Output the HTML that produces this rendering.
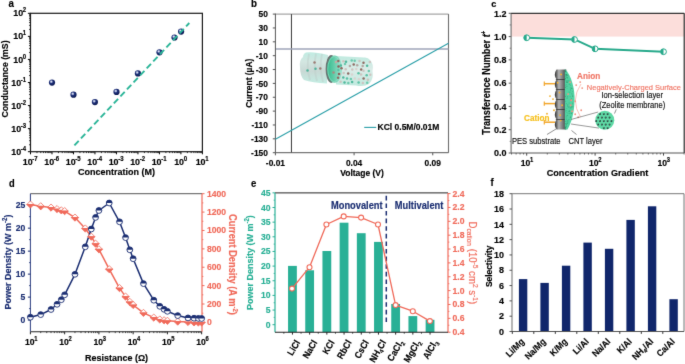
<!DOCTYPE html>
<html><head><meta charset="utf-8"><style>
html,body{margin:0;padding:0;background:#fff;}
svg{display:block;font-family:"Liberation Sans", sans-serif;}
</style></head><body>
<svg width="685" height="364" viewBox="0 0 685 364">
<defs>
<filter id="soft" x="0" y="0" width="685" height="364" filterUnits="userSpaceOnUse" color-interpolation-filters="sRGB"><feConvolveMatrix order="3" kernelMatrix="0.0081 0.0738 0.0081 0.0738 0.6724 0.0738 0.0081 0.0738 0.0081" divisor="1" edgeMode="duplicate" preserveAlpha="true"/></filter>
<radialGradient id="ball" cx="0.38" cy="0.35" r="0.65">
<stop offset="0" stop-color="#ffffff"/>
<stop offset="0.22" stop-color="#9aa6d0"/>
<stop offset="0.45" stop-color="#1d2f78"/>
<stop offset="1" stop-color="#0c1a52"/>
</radialGradient>
<linearGradient id="tubeL" x1="0" y1="0" x2="0" y2="1">
<stop offset="0" stop-color="#bfece2"/><stop offset="0.3" stop-color="#d3e6e1"/><stop offset="0.6" stop-color="#c9d9d5"/><stop offset="1" stop-color="#c3ede3"/>
</linearGradient>
<linearGradient id="tubeR" x1="0" y1="0" x2="0" y2="1">
<stop offset="0" stop-color="#bfeadf"/><stop offset="0.45" stop-color="#dcece8"/><stop offset="1" stop-color="#bfe9de"/>
</linearGradient>
<linearGradient id="disc" x1="0" y1="0" x2="1" y2="0">
<stop offset="0" stop-color="#35b98c"/><stop offset="0.4" stop-color="#5ccaa5"/><stop offset="1" stop-color="#a6e2d2"/>
</linearGradient>
<linearGradient id="pes" x1="0" y1="0" x2="1" y2="0">
<stop offset="0" stop-color="#2e2e2e"/><stop offset="0.35" stop-color="#b5b5b5"/><stop offset="0.7" stop-color="#777"/><stop offset="1" stop-color="#3a3a3a"/>
</linearGradient>
</defs>
<g filter="url(#soft)">
<rect width="685" height="364" fill="#fff"/>
<text transform="translate(8.60,6.90) scale(1,1.08)" font-size="9.8" fill="#000" text-anchor="start" font-weight="bold"  style="" stroke="#000" stroke-width="0.15">a</text>
<line x1="30.50" y1="151.70" x2="30.50" y2="154.30" stroke="#000" stroke-width="1" />
<line x1="36.97" y1="151.70" x2="36.97" y2="153.10" stroke="#000" stroke-width="0.8" />
<line x1="40.75" y1="151.70" x2="40.75" y2="153.10" stroke="#000" stroke-width="0.8" />
<line x1="43.44" y1="151.70" x2="43.44" y2="153.10" stroke="#000" stroke-width="0.8" />
<line x1="45.52" y1="151.70" x2="45.52" y2="153.10" stroke="#000" stroke-width="0.8" />
<line x1="47.22" y1="151.70" x2="47.22" y2="153.10" stroke="#000" stroke-width="0.8" />
<line x1="48.66" y1="151.70" x2="48.66" y2="153.10" stroke="#000" stroke-width="0.8" />
<line x1="49.91" y1="151.70" x2="49.91" y2="153.10" stroke="#000" stroke-width="0.8" />
<line x1="51.00" y1="151.70" x2="51.00" y2="153.10" stroke="#000" stroke-width="0.8" />
<line x1="51.99" y1="151.70" x2="51.99" y2="154.30" stroke="#000" stroke-width="1" />
<line x1="58.46" y1="151.70" x2="58.46" y2="153.10" stroke="#000" stroke-width="0.8" />
<line x1="62.24" y1="151.70" x2="62.24" y2="153.10" stroke="#000" stroke-width="0.8" />
<line x1="64.92" y1="151.70" x2="64.92" y2="153.10" stroke="#000" stroke-width="0.8" />
<line x1="67.01" y1="151.70" x2="67.01" y2="153.10" stroke="#000" stroke-width="0.8" />
<line x1="68.71" y1="151.70" x2="68.71" y2="153.10" stroke="#000" stroke-width="0.8" />
<line x1="70.15" y1="151.70" x2="70.15" y2="153.10" stroke="#000" stroke-width="0.8" />
<line x1="71.39" y1="151.70" x2="71.39" y2="153.10" stroke="#000" stroke-width="0.8" />
<line x1="72.49" y1="151.70" x2="72.49" y2="153.10" stroke="#000" stroke-width="0.8" />
<line x1="73.47" y1="151.70" x2="73.47" y2="154.30" stroke="#000" stroke-width="1" />
<line x1="79.94" y1="151.70" x2="79.94" y2="153.10" stroke="#000" stroke-width="0.8" />
<line x1="83.73" y1="151.70" x2="83.73" y2="153.10" stroke="#000" stroke-width="0.8" />
<line x1="86.41" y1="151.70" x2="86.41" y2="153.10" stroke="#000" stroke-width="0.8" />
<line x1="88.49" y1="151.70" x2="88.49" y2="153.10" stroke="#000" stroke-width="0.8" />
<line x1="90.20" y1="151.70" x2="90.20" y2="153.10" stroke="#000" stroke-width="0.8" />
<line x1="91.63" y1="151.70" x2="91.63" y2="153.10" stroke="#000" stroke-width="0.8" />
<line x1="92.88" y1="151.70" x2="92.88" y2="153.10" stroke="#000" stroke-width="0.8" />
<line x1="93.98" y1="151.70" x2="93.98" y2="153.10" stroke="#000" stroke-width="0.8" />
<line x1="94.96" y1="151.70" x2="94.96" y2="154.30" stroke="#000" stroke-width="1" />
<line x1="101.43" y1="151.70" x2="101.43" y2="153.10" stroke="#000" stroke-width="0.8" />
<line x1="105.21" y1="151.70" x2="105.21" y2="153.10" stroke="#000" stroke-width="0.8" />
<line x1="107.90" y1="151.70" x2="107.90" y2="153.10" stroke="#000" stroke-width="0.8" />
<line x1="109.98" y1="151.70" x2="109.98" y2="153.10" stroke="#000" stroke-width="0.8" />
<line x1="111.68" y1="151.70" x2="111.68" y2="153.10" stroke="#000" stroke-width="0.8" />
<line x1="113.12" y1="151.70" x2="113.12" y2="153.10" stroke="#000" stroke-width="0.8" />
<line x1="114.37" y1="151.70" x2="114.37" y2="153.10" stroke="#000" stroke-width="0.8" />
<line x1="115.47" y1="151.70" x2="115.47" y2="153.10" stroke="#000" stroke-width="0.8" />
<line x1="116.45" y1="151.70" x2="116.45" y2="154.30" stroke="#000" stroke-width="1" />
<line x1="122.92" y1="151.70" x2="122.92" y2="153.10" stroke="#000" stroke-width="0.8" />
<line x1="126.70" y1="151.70" x2="126.70" y2="153.10" stroke="#000" stroke-width="0.8" />
<line x1="129.39" y1="151.70" x2="129.39" y2="153.10" stroke="#000" stroke-width="0.8" />
<line x1="131.47" y1="151.70" x2="131.47" y2="153.10" stroke="#000" stroke-width="0.8" />
<line x1="133.17" y1="151.70" x2="133.17" y2="153.10" stroke="#000" stroke-width="0.8" />
<line x1="134.61" y1="151.70" x2="134.61" y2="153.10" stroke="#000" stroke-width="0.8" />
<line x1="135.86" y1="151.70" x2="135.86" y2="153.10" stroke="#000" stroke-width="0.8" />
<line x1="136.95" y1="151.70" x2="136.95" y2="153.10" stroke="#000" stroke-width="0.8" />
<line x1="137.94" y1="151.70" x2="137.94" y2="154.30" stroke="#000" stroke-width="1" />
<line x1="144.41" y1="151.70" x2="144.41" y2="153.10" stroke="#000" stroke-width="0.8" />
<line x1="148.19" y1="151.70" x2="148.19" y2="153.10" stroke="#000" stroke-width="0.8" />
<line x1="150.87" y1="151.70" x2="150.87" y2="153.10" stroke="#000" stroke-width="0.8" />
<line x1="152.96" y1="151.70" x2="152.96" y2="153.10" stroke="#000" stroke-width="0.8" />
<line x1="154.66" y1="151.70" x2="154.66" y2="153.10" stroke="#000" stroke-width="0.8" />
<line x1="156.10" y1="151.70" x2="156.10" y2="153.10" stroke="#000" stroke-width="0.8" />
<line x1="157.34" y1="151.70" x2="157.34" y2="153.10" stroke="#000" stroke-width="0.8" />
<line x1="158.44" y1="151.70" x2="158.44" y2="153.10" stroke="#000" stroke-width="0.8" />
<line x1="159.43" y1="151.70" x2="159.43" y2="154.30" stroke="#000" stroke-width="1" />
<line x1="165.89" y1="151.70" x2="165.89" y2="153.10" stroke="#000" stroke-width="0.8" />
<line x1="169.68" y1="151.70" x2="169.68" y2="153.10" stroke="#000" stroke-width="0.8" />
<line x1="172.36" y1="151.70" x2="172.36" y2="153.10" stroke="#000" stroke-width="0.8" />
<line x1="174.44" y1="151.70" x2="174.44" y2="153.10" stroke="#000" stroke-width="0.8" />
<line x1="176.15" y1="151.70" x2="176.15" y2="153.10" stroke="#000" stroke-width="0.8" />
<line x1="177.58" y1="151.70" x2="177.58" y2="153.10" stroke="#000" stroke-width="0.8" />
<line x1="178.83" y1="151.70" x2="178.83" y2="153.10" stroke="#000" stroke-width="0.8" />
<line x1="179.93" y1="151.70" x2="179.93" y2="153.10" stroke="#000" stroke-width="0.8" />
<line x1="180.91" y1="151.70" x2="180.91" y2="154.30" stroke="#000" stroke-width="1" />
<line x1="187.38" y1="151.70" x2="187.38" y2="153.10" stroke="#000" stroke-width="0.8" />
<line x1="191.16" y1="151.70" x2="191.16" y2="153.10" stroke="#000" stroke-width="0.8" />
<line x1="193.85" y1="151.70" x2="193.85" y2="153.10" stroke="#000" stroke-width="0.8" />
<line x1="195.93" y1="151.70" x2="195.93" y2="153.10" stroke="#000" stroke-width="0.8" />
<line x1="197.63" y1="151.70" x2="197.63" y2="153.10" stroke="#000" stroke-width="0.8" />
<line x1="199.07" y1="151.70" x2="199.07" y2="153.10" stroke="#000" stroke-width="0.8" />
<line x1="200.32" y1="151.70" x2="200.32" y2="153.10" stroke="#000" stroke-width="0.8" />
<line x1="201.42" y1="151.70" x2="201.42" y2="153.10" stroke="#000" stroke-width="0.8" />
<line x1="202.40" y1="151.70" x2="202.40" y2="154.30" stroke="#000" stroke-width="1" />
<line x1="27.90" y1="151.70" x2="30.50" y2="151.70" stroke="#000" stroke-width="1" />
<line x1="29.10" y1="144.76" x2="30.50" y2="144.76" stroke="#000" stroke-width="0.8" />
<line x1="29.10" y1="140.69" x2="30.50" y2="140.69" stroke="#000" stroke-width="0.8" />
<line x1="29.10" y1="137.81" x2="30.50" y2="137.81" stroke="#000" stroke-width="0.8" />
<line x1="29.10" y1="135.58" x2="30.50" y2="135.58" stroke="#000" stroke-width="0.8" />
<line x1="29.10" y1="133.75" x2="30.50" y2="133.75" stroke="#000" stroke-width="0.8" />
<line x1="29.10" y1="132.21" x2="30.50" y2="132.21" stroke="#000" stroke-width="0.8" />
<line x1="29.10" y1="130.87" x2="30.50" y2="130.87" stroke="#000" stroke-width="0.8" />
<line x1="29.10" y1="129.69" x2="30.50" y2="129.69" stroke="#000" stroke-width="0.8" />
<line x1="27.90" y1="128.63" x2="30.50" y2="128.63" stroke="#000" stroke-width="1" />
<line x1="29.10" y1="121.69" x2="30.50" y2="121.69" stroke="#000" stroke-width="0.8" />
<line x1="29.10" y1="117.63" x2="30.50" y2="117.63" stroke="#000" stroke-width="0.8" />
<line x1="29.10" y1="114.75" x2="30.50" y2="114.75" stroke="#000" stroke-width="0.8" />
<line x1="29.10" y1="112.51" x2="30.50" y2="112.51" stroke="#000" stroke-width="0.8" />
<line x1="29.10" y1="110.68" x2="30.50" y2="110.68" stroke="#000" stroke-width="0.8" />
<line x1="29.10" y1="109.14" x2="30.50" y2="109.14" stroke="#000" stroke-width="0.8" />
<line x1="29.10" y1="107.80" x2="30.50" y2="107.80" stroke="#000" stroke-width="0.8" />
<line x1="29.10" y1="106.62" x2="30.50" y2="106.62" stroke="#000" stroke-width="0.8" />
<line x1="27.90" y1="105.57" x2="30.50" y2="105.57" stroke="#000" stroke-width="1" />
<line x1="29.10" y1="98.62" x2="30.50" y2="98.62" stroke="#000" stroke-width="0.8" />
<line x1="29.10" y1="94.56" x2="30.50" y2="94.56" stroke="#000" stroke-width="0.8" />
<line x1="29.10" y1="91.68" x2="30.50" y2="91.68" stroke="#000" stroke-width="0.8" />
<line x1="29.10" y1="89.44" x2="30.50" y2="89.44" stroke="#000" stroke-width="0.8" />
<line x1="29.10" y1="87.62" x2="30.50" y2="87.62" stroke="#000" stroke-width="0.8" />
<line x1="29.10" y1="86.07" x2="30.50" y2="86.07" stroke="#000" stroke-width="0.8" />
<line x1="29.10" y1="84.74" x2="30.50" y2="84.74" stroke="#000" stroke-width="0.8" />
<line x1="29.10" y1="83.56" x2="30.50" y2="83.56" stroke="#000" stroke-width="0.8" />
<line x1="27.90" y1="82.50" x2="30.50" y2="82.50" stroke="#000" stroke-width="1" />
<line x1="29.10" y1="75.56" x2="30.50" y2="75.56" stroke="#000" stroke-width="0.8" />
<line x1="29.10" y1="71.49" x2="30.50" y2="71.49" stroke="#000" stroke-width="0.8" />
<line x1="29.10" y1="68.61" x2="30.50" y2="68.61" stroke="#000" stroke-width="0.8" />
<line x1="29.10" y1="66.38" x2="30.50" y2="66.38" stroke="#000" stroke-width="0.8" />
<line x1="29.10" y1="64.55" x2="30.50" y2="64.55" stroke="#000" stroke-width="0.8" />
<line x1="29.10" y1="63.01" x2="30.50" y2="63.01" stroke="#000" stroke-width="0.8" />
<line x1="29.10" y1="61.67" x2="30.50" y2="61.67" stroke="#000" stroke-width="0.8" />
<line x1="29.10" y1="60.49" x2="30.50" y2="60.49" stroke="#000" stroke-width="0.8" />
<line x1="27.90" y1="59.43" x2="30.50" y2="59.43" stroke="#000" stroke-width="1" />
<line x1="29.10" y1="52.49" x2="30.50" y2="52.49" stroke="#000" stroke-width="0.8" />
<line x1="29.10" y1="48.43" x2="30.50" y2="48.43" stroke="#000" stroke-width="0.8" />
<line x1="29.10" y1="45.55" x2="30.50" y2="45.55" stroke="#000" stroke-width="0.8" />
<line x1="29.10" y1="43.31" x2="30.50" y2="43.31" stroke="#000" stroke-width="0.8" />
<line x1="29.10" y1="41.48" x2="30.50" y2="41.48" stroke="#000" stroke-width="0.8" />
<line x1="29.10" y1="39.94" x2="30.50" y2="39.94" stroke="#000" stroke-width="0.8" />
<line x1="29.10" y1="38.60" x2="30.50" y2="38.60" stroke="#000" stroke-width="0.8" />
<line x1="29.10" y1="37.42" x2="30.50" y2="37.42" stroke="#000" stroke-width="0.8" />
<line x1="27.90" y1="36.37" x2="30.50" y2="36.37" stroke="#000" stroke-width="1" />
<line x1="29.10" y1="29.42" x2="30.50" y2="29.42" stroke="#000" stroke-width="0.8" />
<line x1="29.10" y1="25.36" x2="30.50" y2="25.36" stroke="#000" stroke-width="0.8" />
<line x1="29.10" y1="22.48" x2="30.50" y2="22.48" stroke="#000" stroke-width="0.8" />
<line x1="29.10" y1="20.24" x2="30.50" y2="20.24" stroke="#000" stroke-width="0.8" />
<line x1="29.10" y1="18.42" x2="30.50" y2="18.42" stroke="#000" stroke-width="0.8" />
<line x1="29.10" y1="16.87" x2="30.50" y2="16.87" stroke="#000" stroke-width="0.8" />
<line x1="29.10" y1="15.54" x2="30.50" y2="15.54" stroke="#000" stroke-width="0.8" />
<line x1="29.10" y1="14.36" x2="30.50" y2="14.36" stroke="#000" stroke-width="0.8" />
<line x1="27.90" y1="13.30" x2="30.50" y2="13.30" stroke="#000" stroke-width="1" />
<rect x="30.5" y="13.3" width="171.9" height="138.39999999999998" fill="none" stroke="#1a1a1a" stroke-width="1.2"/>
<text transform="translate(30.20,165.00) scale(1,1.08)" font-size="8.9" fill="#000" text-anchor="middle" font-weight="bold" stroke="#000" stroke-width="0.15">10<tspan font-size="6.05" dx="-0.3" dy="-3.74">-7</tspan></text>
<text transform="translate(51.69,165.00) scale(1,1.08)" font-size="8.9" fill="#000" text-anchor="middle" font-weight="bold" stroke="#000" stroke-width="0.15">10<tspan font-size="6.05" dx="-0.3" dy="-3.74">-6</tspan></text>
<text transform="translate(73.17,165.00) scale(1,1.08)" font-size="8.9" fill="#000" text-anchor="middle" font-weight="bold" stroke="#000" stroke-width="0.15">10<tspan font-size="6.05" dx="-0.3" dy="-3.74">-5</tspan></text>
<text transform="translate(94.66,165.00) scale(1,1.08)" font-size="8.9" fill="#000" text-anchor="middle" font-weight="bold" stroke="#000" stroke-width="0.15">10<tspan font-size="6.05" dx="-0.3" dy="-3.74">-4</tspan></text>
<text transform="translate(116.15,165.00) scale(1,1.08)" font-size="8.9" fill="#000" text-anchor="middle" font-weight="bold" stroke="#000" stroke-width="0.15">10<tspan font-size="6.05" dx="-0.3" dy="-3.74">-3</tspan></text>
<text transform="translate(137.64,165.00) scale(1,1.08)" font-size="8.9" fill="#000" text-anchor="middle" font-weight="bold" stroke="#000" stroke-width="0.15">10<tspan font-size="6.05" dx="-0.3" dy="-3.74">-2</tspan></text>
<text transform="translate(159.12,165.00) scale(1,1.08)" font-size="8.9" fill="#000" text-anchor="middle" font-weight="bold" stroke="#000" stroke-width="0.15">10<tspan font-size="6.05" dx="-0.3" dy="-3.74">-1</tspan></text>
<text transform="translate(180.61,165.00) scale(1,1.08)" font-size="8.9" fill="#000" text-anchor="middle" font-weight="bold" stroke="#000" stroke-width="0.15">10<tspan font-size="6.05" dx="-0.3" dy="-3.74">0</tspan></text>
<text transform="translate(202.10,165.00) scale(1,1.08)" font-size="8.9" fill="#000" text-anchor="middle" font-weight="bold" stroke="#000" stroke-width="0.15">10<tspan font-size="6.05" dx="-0.3" dy="-3.74">1</tspan></text>
<text transform="translate(26.20,154.80) scale(1,1.08)" font-size="8.9" text-anchor="end" font-weight="bold" stroke="#000" stroke-width="0.15">10<tspan font-size="6" dx="-0.3" dy="-3.7">-4</tspan></text>
<text transform="translate(26.20,131.73) scale(1,1.08)" font-size="8.9" text-anchor="end" font-weight="bold" stroke="#000" stroke-width="0.15">10<tspan font-size="6" dx="-0.3" dy="-3.7">-3</tspan></text>
<text transform="translate(26.20,108.67) scale(1,1.08)" font-size="8.9" text-anchor="end" font-weight="bold" stroke="#000" stroke-width="0.15">10<tspan font-size="6" dx="-0.3" dy="-3.7">-2</tspan></text>
<text transform="translate(26.20,85.60) scale(1,1.08)" font-size="8.9" text-anchor="end" font-weight="bold" stroke="#000" stroke-width="0.15">10<tspan font-size="6" dx="-0.3" dy="-3.7">-1</tspan></text>
<text transform="translate(26.20,62.53) scale(1,1.08)" font-size="8.9" text-anchor="end" font-weight="bold" stroke="#000" stroke-width="0.15">10<tspan font-size="6" dx="-0.3" dy="-3.7">0</tspan></text>
<text transform="translate(26.20,39.47) scale(1,1.08)" font-size="8.9" text-anchor="end" font-weight="bold" stroke="#000" stroke-width="0.15">10<tspan font-size="6" dx="-0.3" dy="-3.7">1</tspan></text>
<text transform="translate(26.20,16.40) scale(1,1.08)" font-size="8.9" text-anchor="end" font-weight="bold" stroke="#000" stroke-width="0.15">10<tspan font-size="6" dx="-0.3" dy="-3.7">2</tspan></text>
<text transform="translate(116.50,174.50) scale(1,1.08)" font-size="9" fill="#000" text-anchor="middle" font-weight="bold"  style="" stroke="#000" stroke-width="0.15">Concentration (M)</text>
<text transform="translate(7.7,79) rotate(-90) scale(1,1.08)" font-size="8.75" text-anchor="middle" font-weight="bold" stroke="#000" stroke-width="0.15">Conductance (mS)</text>
<circle cx="52.0" cy="82.6" r="3.1" fill="url(#ball)"/>
<circle cx="73.5" cy="94.7" r="3.1" fill="url(#ball)"/>
<circle cx="94.9" cy="102.1" r="3.1" fill="url(#ball)"/>
<circle cx="116.5" cy="91.9" r="3.1" fill="url(#ball)"/>
<circle cx="137.9" cy="73.4" r="3.1" fill="url(#ball)"/>
<circle cx="159.5" cy="52.3" r="3.1" fill="url(#ball)"/>
<circle cx="174.5" cy="37.5" r="3.1" fill="url(#ball)"/>
<circle cx="181.1" cy="31.6" r="3.1" fill="url(#ball)"/>
<line x1="74.40" y1="145.40" x2="189.30" y2="23.00" stroke="#2bb598" stroke-width="1.9" stroke-dasharray="6.3 3.3"/>
<text transform="translate(250.90,6.80) scale(1,1.08)" font-size="9.8" fill="#000" text-anchor="start" font-weight="bold"  style="" stroke="#000" stroke-width="0.15">b</text>
<line x1="275.40" y1="14.10" x2="448.50" y2="14.10" stroke="#a6a6a6" stroke-width="1.2" />
<line x1="448.50" y1="14.10" x2="448.50" y2="152.70" stroke="#6e6e6e" stroke-width="1.1" />
<line x1="291.44" y1="14.10" x2="291.44" y2="152.70" stroke="#3a3a3a" stroke-width="1" />
<line x1="275.40" y1="49.05" x2="448.50" y2="49.05" stroke="#9fa4b8" stroke-width="1.6" />
<line x1="272.80" y1="14.10" x2="275.40" y2="14.10" stroke="#555" stroke-width="1" />
<text transform="translate(267.90,17.20) scale(1,1.08)" font-size="8.4" fill="#000" text-anchor="end" font-weight="bold"  style="" stroke="#000" stroke-width="0.15">50</text>
<line x1="272.80" y1="27.96" x2="275.40" y2="27.96" stroke="#555" stroke-width="1" />
<text transform="translate(267.90,31.06) scale(1,1.08)" font-size="8.4" fill="#000" text-anchor="end" font-weight="bold"  style="" stroke="#000" stroke-width="0.15">30</text>
<line x1="272.80" y1="41.82" x2="275.40" y2="41.82" stroke="#555" stroke-width="1" />
<text transform="translate(267.90,44.92) scale(1,1.08)" font-size="8.4" fill="#000" text-anchor="end" font-weight="bold"  style="" stroke="#000" stroke-width="0.15">10</text>
<line x1="272.80" y1="55.68" x2="275.40" y2="55.68" stroke="#555" stroke-width="1" />
<text transform="translate(267.90,58.78) scale(1,1.08)" font-size="8.4" fill="#000" text-anchor="end" font-weight="bold"  style="" stroke="#000" stroke-width="0.15">-10</text>
<line x1="272.80" y1="69.54" x2="275.40" y2="69.54" stroke="#555" stroke-width="1" />
<text transform="translate(267.90,72.64) scale(1,1.08)" font-size="8.4" fill="#000" text-anchor="end" font-weight="bold"  style="" stroke="#000" stroke-width="0.15">-30</text>
<line x1="272.80" y1="83.40" x2="275.40" y2="83.40" stroke="#555" stroke-width="1" />
<text transform="translate(267.90,86.50) scale(1,1.08)" font-size="8.4" fill="#000" text-anchor="end" font-weight="bold"  style="" stroke="#000" stroke-width="0.15">-50</text>
<line x1="272.80" y1="97.26" x2="275.40" y2="97.26" stroke="#555" stroke-width="1" />
<text transform="translate(267.90,100.36) scale(1,1.08)" font-size="8.4" fill="#000" text-anchor="end" font-weight="bold"  style="" stroke="#000" stroke-width="0.15">-70</text>
<line x1="272.80" y1="111.12" x2="275.40" y2="111.12" stroke="#555" stroke-width="1" />
<text transform="translate(267.90,114.22) scale(1,1.08)" font-size="8.4" fill="#000" text-anchor="end" font-weight="bold"  style="" stroke="#000" stroke-width="0.15">-90</text>
<line x1="272.80" y1="124.98" x2="275.40" y2="124.98" stroke="#555" stroke-width="1" />
<text transform="translate(267.90,128.08) scale(1,1.08)" font-size="8.4" fill="#000" text-anchor="end" font-weight="bold"  style="" stroke="#000" stroke-width="0.15">-110</text>
<line x1="272.80" y1="138.84" x2="275.40" y2="138.84" stroke="#555" stroke-width="1" />
<text transform="translate(267.90,141.94) scale(1,1.08)" font-size="8.4" fill="#000" text-anchor="end" font-weight="bold"  style="" stroke="#000" stroke-width="0.15">-130</text>
<line x1="272.80" y1="152.70" x2="275.40" y2="152.70" stroke="#555" stroke-width="1" />
<text transform="translate(267.90,155.80) scale(1,1.08)" font-size="8.4" fill="#000" text-anchor="end" font-weight="bold"  style="" stroke="#000" stroke-width="0.15">-150</text>
<line x1="275.40" y1="152.70" x2="275.40" y2="155.30" stroke="#555" stroke-width="1" />
<text transform="translate(275.40,166.20) scale(1,1.08)" font-size="8.4" fill="#000" text-anchor="middle" font-weight="bold"  style="" stroke="#000" stroke-width="0.15">-0.01</text>
<line x1="354.08" y1="152.70" x2="354.08" y2="155.30" stroke="#555" stroke-width="1" />
<text transform="translate(354.08,166.20) scale(1,1.08)" font-size="8.4" fill="#000" text-anchor="middle" font-weight="bold"  style="" stroke="#000" stroke-width="0.15">0.04</text>
<line x1="432.76" y1="152.70" x2="432.76" y2="155.30" stroke="#555" stroke-width="1" />
<text transform="translate(432.76,166.20) scale(1,1.08)" font-size="8.4" fill="#000" text-anchor="middle" font-weight="bold"  style="" stroke="#000" stroke-width="0.15">0.09</text>
<line x1="275.40" y1="13.60" x2="275.40" y2="152.70" stroke="#555" stroke-width="1" />
<line x1="275.40" y1="152.70" x2="448.50" y2="152.70" stroke="#555" stroke-width="1" />
<text transform="translate(362.00,176.00) scale(1,1.08)" font-size="8.5" fill="#000" text-anchor="middle" font-weight="bold"  style="" stroke="#000" stroke-width="0.15">Voltage (V)</text>
<text transform="translate(252.2,83.3) rotate(-90) scale(1,1.08)" font-size="8.4" text-anchor="middle" font-weight="bold" stroke="#000" stroke-width="0.15">Current (µA)</text>
<g>
<path d="M303,57 Q299,60 300,67 Q300,76 304,80 Q312,82.5 327,83.5 L328,55 Q314,51.5 306,52.5 Q303,54 303,57 Z" fill="url(#tubeL)"/>
<path d="M309,54 Q306,67 310,80 M316,53.5 Q313,67 317,81 M322,54 Q319,68 323,82" fill="none" stroke="#bccbc7" stroke-width="1.8" opacity="0.45"/>
<path d="M336,56 L364,57.5 Q368,57 370,60 Q374,64 372.5,71 Q374,79 369,84 Q364,87 356,85.5 L336,84.5 Z" fill="url(#tubeR)"/>
<ellipse cx="331.2" cy="69" rx="5.6" ry="13.9" fill="#6b7472"/>
<ellipse cx="334.6" cy="69.1" rx="7.6" ry="13.7" fill="url(#disc)"/>
<ellipse cx="334.2" cy="69.1" rx="6.4" ry="12.6" fill="none" stroke="#9fe3cc" stroke-width="0.7" opacity="0.8"/>
</g>
<circle cx="338.3" cy="61.0" r="1.25" fill="#8f6a62"/>
<circle cx="340.8" cy="65.4" r="1.25" fill="#4fb89c"/>
<circle cx="338.4" cy="69.9" r="1.25" fill="#5cc3a6"/>
<circle cx="339.7" cy="74.1" r="1.25" fill="#cdc3bf"/>
<circle cx="338.1" cy="77.8" r="1.25" fill="#8f6a62"/>
<circle cx="340.6" cy="81.8" r="1.25" fill="#cdc3bf"/>
<circle cx="343.4" cy="61.2" r="1.25" fill="#cdc3bf"/>
<circle cx="345.0" cy="64.1" r="1.25" fill="#6cc9ae"/>
<circle cx="341.5" cy="68.3" r="1.25" fill="#8f6a62"/>
<circle cx="343.7" cy="73.0" r="1.25" fill="#cdc3bf"/>
<circle cx="343.3" cy="77.5" r="1.25" fill="#4fb89c"/>
<circle cx="344.5" cy="82.6" r="1.25" fill="#4fb89c"/>
<circle cx="346.0" cy="61.8" r="1.25" fill="#4fb89c"/>
<circle cx="349.9" cy="66.0" r="1.25" fill="#b5a7a3"/>
<circle cx="345.7" cy="69.3" r="1.25" fill="#cdc3bf"/>
<circle cx="348.2" cy="73.5" r="1.25" fill="#8f6a62"/>
<circle cx="347.0" cy="78.5" r="1.25" fill="#5cc3a6"/>
<circle cx="348.3" cy="83.0" r="1.25" fill="#6cc9ae"/>
<circle cx="351.7" cy="60.5" r="1.25" fill="#6cc9ae"/>
<circle cx="353.7" cy="64.5" r="1.25" fill="#8f6a62"/>
<circle cx="352.3" cy="69.4" r="1.25" fill="#cdc3bf"/>
<circle cx="352.0" cy="74.6" r="1.25" fill="#d9d2cf"/>
<circle cx="350.9" cy="79.0" r="1.25" fill="#6cc9ae"/>
<circle cx="352.1" cy="82.0" r="1.25" fill="#4fb89c"/>
<circle cx="354.7" cy="60.8" r="1.25" fill="#6cc9ae"/>
<circle cx="357.2" cy="65.3" r="1.25" fill="#b5a7a3"/>
<circle cx="356.3" cy="69.1" r="1.25" fill="#d9d2cf"/>
<circle cx="358.5" cy="73.3" r="1.25" fill="#5cc3a6"/>
<circle cx="354.9" cy="78.5" r="1.25" fill="#d9d2cf"/>
<circle cx="358.6" cy="82.5" r="1.25" fill="#5cc3a6"/>
<circle cx="359.5" cy="61.1" r="1.25" fill="#cdc3bf"/>
<circle cx="362.7" cy="66.1" r="1.25" fill="#b5a7a3"/>
<circle cx="361.2" cy="69.4" r="1.25" fill="#8f6a62"/>
<circle cx="361.0" cy="74.6" r="1.25" fill="#cdc3bf"/>
<circle cx="358.9" cy="79.2" r="1.25" fill="#d9d2cf"/>
<circle cx="362.8" cy="82.9" r="1.25" fill="#cdc3bf"/>
<circle cx="363.5" cy="62.7" r="1.25" fill="#8f6a62"/>
<circle cx="367.1" cy="65.7" r="1.25" fill="#4fb89c"/>
<circle cx="363.5" cy="70.8" r="1.25" fill="#cdc3bf"/>
<circle cx="366.7" cy="75.2" r="1.25" fill="#5cc3a6"/>
<circle cx="363.6" cy="78.6" r="1.25" fill="#8f6a62"/>
<circle cx="367.2" cy="82.8" r="1.25" fill="#6cc9ae"/>
<circle cx="369.8" cy="62.1" r="1.25" fill="#cdc3bf"/>
<circle cx="368.8" cy="71.0" r="1.25" fill="#6cc9ae"/>
<circle cx="370.3" cy="74.7" r="1.25" fill="#cdc3bf"/>
<circle cx="367.9" cy="79.7" r="1.25" fill="#cdc3bf"/>
<circle cx="314.5" cy="62.5" r="1.25" fill="#9b7b73"/>
<circle cx="320.3" cy="68.5" r="1.25" fill="#9b7b73"/>
<circle cx="315.5" cy="68.8" r="1.25" fill="#4fb39a"/>
<circle cx="307.5" cy="70.5" r="1.25" fill="#4fb39a"/>
<circle cx="333.5" cy="72.5" r="1.25" fill="#a88880"/>
<circle cx="336" cy="62" r="1.25" fill="#c6aaa2"/>
<circle cx="338.5" cy="66.5" r="1.25" fill="#8a6058"/>
<circle cx="339" cy="74" r="1.25" fill="#8a6058"/>
<line x1="275.40" y1="139.30" x2="448.50" y2="43.20" stroke="#2a9fa8" stroke-width="1.1" />
<line x1="364.20" y1="127.40" x2="376.20" y2="127.40" stroke="#2a9fa8" stroke-width="1.1" />
<text transform="translate(377.60,130.40) scale(1,1.08)" font-size="8.5" fill="#000" text-anchor="start" font-weight="bold"  style="" stroke="#000" stroke-width="0.15">KCl 0.5M/0.01M</text>
<text transform="translate(491.30,7.10) scale(1,1.08)" font-size="9.2" fill="#000" text-anchor="start" font-weight="bold"  style="" stroke="#000" stroke-width="0.15">c</text>
<rect x="511.10" y="13.30" width="173.10" height="23.28" fill="#fcdedb" />
<line x1="508.70" y1="153.00" x2="511.10" y2="153.00" stroke="#555" stroke-width="1" />
<text transform="translate(506.50,156.20) scale(1,1.08)" font-size="9.0" fill="#000" text-anchor="end" font-weight="bold"  style="" stroke="#000" stroke-width="0.15">0.0</text>
<line x1="509.70" y1="141.36" x2="511.10" y2="141.36" stroke="#555" stroke-width="0.8" />
<line x1="508.70" y1="129.72" x2="511.10" y2="129.72" stroke="#555" stroke-width="1" />
<text transform="translate(506.50,132.92) scale(1,1.08)" font-size="9.0" fill="#000" text-anchor="end" font-weight="bold"  style="" stroke="#000" stroke-width="0.15">0.2</text>
<line x1="509.70" y1="118.07" x2="511.10" y2="118.07" stroke="#555" stroke-width="0.8" />
<line x1="508.70" y1="106.43" x2="511.10" y2="106.43" stroke="#555" stroke-width="1" />
<text transform="translate(506.50,109.63) scale(1,1.08)" font-size="9.0" fill="#000" text-anchor="end" font-weight="bold"  style="" stroke="#000" stroke-width="0.15">0.4</text>
<line x1="509.70" y1="94.79" x2="511.10" y2="94.79" stroke="#555" stroke-width="0.8" />
<line x1="508.70" y1="83.15" x2="511.10" y2="83.15" stroke="#555" stroke-width="1" />
<text transform="translate(506.50,86.35) scale(1,1.08)" font-size="9.0" fill="#000" text-anchor="end" font-weight="bold"  style="" stroke="#000" stroke-width="0.15">0.6</text>
<line x1="509.70" y1="71.51" x2="511.10" y2="71.51" stroke="#555" stroke-width="0.8" />
<line x1="508.70" y1="59.87" x2="511.10" y2="59.87" stroke="#555" stroke-width="1" />
<text transform="translate(506.50,63.07) scale(1,1.08)" font-size="9.0" fill="#000" text-anchor="end" font-weight="bold"  style="" stroke="#000" stroke-width="0.15">0.8</text>
<line x1="509.70" y1="48.23" x2="511.10" y2="48.23" stroke="#555" stroke-width="0.8" />
<line x1="508.70" y1="36.58" x2="511.10" y2="36.58" stroke="#555" stroke-width="1" />
<text transform="translate(506.50,39.78) scale(1,1.08)" font-size="9.0" fill="#000" text-anchor="end" font-weight="bold"  style="" stroke="#000" stroke-width="0.15">1.0</text>
<line x1="509.70" y1="24.94" x2="511.10" y2="24.94" stroke="#555" stroke-width="0.8" />
<line x1="508.70" y1="13.30" x2="511.10" y2="13.30" stroke="#555" stroke-width="1" />
<text transform="translate(506.50,16.50) scale(1,1.08)" font-size="9.0" fill="#000" text-anchor="end" font-weight="bold"  style="" stroke="#000" stroke-width="0.15">1.2</text>
<line x1="526.70" y1="153.00" x2="526.70" y2="155.60" stroke="#444" stroke-width="1" />
<text transform="translate(526.90,166.00) scale(1,1.08)" font-size="8.6" fill="#000" text-anchor="middle" font-weight="bold" stroke="#000" stroke-width="0.15">10<tspan font-size="5.85" dx="-0.3" dy="-3.61">1</tspan></text>
<line x1="595.10" y1="153.00" x2="595.10" y2="155.60" stroke="#444" stroke-width="1" />
<text transform="translate(595.30,166.00) scale(1,1.08)" font-size="8.6" fill="#000" text-anchor="middle" font-weight="bold" stroke="#000" stroke-width="0.15">10<tspan font-size="5.85" dx="-0.3" dy="-3.61">2</tspan></text>
<line x1="663.50" y1="153.00" x2="663.50" y2="155.60" stroke="#444" stroke-width="1" />
<text transform="translate(663.70,166.00) scale(1,1.08)" font-size="8.6" fill="#000" text-anchor="middle" font-weight="bold" stroke="#000" stroke-width="0.15">10<tspan font-size="5.85" dx="-0.3" dy="-3.61">3</tspan></text>
<line x1="511.53" y1="153.00" x2="511.53" y2="154.50" stroke="#444" stroke-width="0.8" />
<line x1="516.10" y1="153.00" x2="516.10" y2="154.50" stroke="#444" stroke-width="0.8" />
<line x1="520.07" y1="153.00" x2="520.07" y2="154.50" stroke="#444" stroke-width="0.8" />
<line x1="523.57" y1="153.00" x2="523.57" y2="154.50" stroke="#444" stroke-width="0.8" />
<line x1="547.29" y1="153.00" x2="547.29" y2="154.50" stroke="#444" stroke-width="0.8" />
<line x1="559.34" y1="153.00" x2="559.34" y2="154.50" stroke="#444" stroke-width="0.8" />
<line x1="567.88" y1="153.00" x2="567.88" y2="154.50" stroke="#444" stroke-width="0.8" />
<line x1="574.51" y1="153.00" x2="574.51" y2="154.50" stroke="#444" stroke-width="0.8" />
<line x1="579.93" y1="153.00" x2="579.93" y2="154.50" stroke="#444" stroke-width="0.8" />
<line x1="584.50" y1="153.00" x2="584.50" y2="154.50" stroke="#444" stroke-width="0.8" />
<line x1="588.47" y1="153.00" x2="588.47" y2="154.50" stroke="#444" stroke-width="0.8" />
<line x1="591.97" y1="153.00" x2="591.97" y2="154.50" stroke="#444" stroke-width="0.8" />
<line x1="615.69" y1="153.00" x2="615.69" y2="154.50" stroke="#444" stroke-width="0.8" />
<line x1="627.74" y1="153.00" x2="627.74" y2="154.50" stroke="#444" stroke-width="0.8" />
<line x1="636.28" y1="153.00" x2="636.28" y2="154.50" stroke="#444" stroke-width="0.8" />
<line x1="642.91" y1="153.00" x2="642.91" y2="154.50" stroke="#444" stroke-width="0.8" />
<line x1="648.33" y1="153.00" x2="648.33" y2="154.50" stroke="#444" stroke-width="0.8" />
<line x1="652.90" y1="153.00" x2="652.90" y2="154.50" stroke="#444" stroke-width="0.8" />
<line x1="656.87" y1="153.00" x2="656.87" y2="154.50" stroke="#444" stroke-width="0.8" />
<line x1="660.37" y1="153.00" x2="660.37" y2="154.50" stroke="#444" stroke-width="0.8" />
<line x1="684.09" y1="153.00" x2="684.09" y2="154.50" stroke="#444" stroke-width="0.8" />
<line x1="511.10" y1="13.30" x2="511.10" y2="153.00" stroke="#777" stroke-width="1.2" />
<line x1="511.10" y1="153.00" x2="684.20" y2="153.00" stroke="#555" stroke-width="1.2" />
<line x1="511.10" y1="13.30" x2="684.20" y2="13.30" stroke="#333" stroke-width="1.2" />
<line x1="684.20" y1="13.30" x2="684.20" y2="153.00" stroke="#333" stroke-width="1.2" />
<text transform="translate(597.50,175.60) scale(1,1.08)" font-size="9.1" fill="#000" text-anchor="middle" font-weight="bold"  style="" stroke="#000" stroke-width="0.15">Concentration Gradient</text>
<text transform="translate(489.5,82.7) rotate(-90) scale(1,1.08)" font-size="9.25" text-anchor="middle" font-weight="bold" stroke="#000" stroke-width="0.15">Transference Number <tspan font-style="italic">t</tspan><tspan font-size="6" dy="-3.5">+</tspan></text>
<polyline points="526.70,37.75 574.51,39.49 595.10,48.81 663.50,51.72" fill="none" stroke="#27a98b" stroke-width="1.9" stroke-linejoin="round" />
<circle cx="526.70" cy="37.75" r="2.9" fill="#fff" stroke="#27a98b" stroke-width="1"/>
<path d="M526.70,34.85 A2.9,2.9 0 0 0 526.70,40.65 Z" fill="#27a98b"/>
<circle cx="574.51" cy="39.49" r="2.9" fill="#fff" stroke="#27a98b" stroke-width="1"/>
<path d="M574.51,36.59 A2.9,2.9 0 0 0 574.51,42.39 Z" fill="#27a98b"/>
<circle cx="595.10" cy="48.81" r="2.9" fill="#fff" stroke="#27a98b" stroke-width="1"/>
<path d="M595.10,45.91 A2.9,2.9 0 0 0 595.10,51.71 Z" fill="#27a98b"/>
<circle cx="663.50" cy="51.72" r="2.9" fill="#fff" stroke="#27a98b" stroke-width="1"/>
<path d="M663.50,48.82 A2.9,2.9 0 0 0 663.50,54.62 Z" fill="#27a98b"/>
<g>
<path d="M556.5,69.5 Q553.2,74.5 556.5,79.5 Q553.2,84.5 556.5,89.5 Q553.2,94.5 556.5,99.5 Q553.2,104.5 556.5,109.5 Q553.2,114.5 556.5,119.5 Q553.2,124.5 556.5,129.5 L566.3,129.5 L566.3,69.5 Z" fill="url(#pes)"/>
<path d="M555.8,79.5 L566.3,79.5 M555.8,89.5 L566.3,89.5 M555.8,99.5 L566.3,99.5 M555.8,109.5 L566.3,109.5 M555.8,119.5 L566.3,119.5" stroke="#2e2e2e" stroke-width="0.9" opacity="0.8"/>
<path d="M564.8,69 C571.5,75 574.8,89 574.6,100 C574.3,112 571.5,123 567.5,129.5 L564.8,129.5 Z" fill="#52d3a2"/>
</g>
<circle cx="570.1" cy="96.7" r="0.45" fill="#1f7a58" opacity="0.5"/>
<circle cx="566.3" cy="124.5" r="0.45" fill="#1f7a58" opacity="0.5"/>
<circle cx="570.4" cy="100.0" r="0.45" fill="#1f7a58" opacity="0.5"/>
<circle cx="567.9" cy="80.9" r="0.45" fill="#1f7a58" opacity="0.5"/>
<circle cx="571.8" cy="107.2" r="0.45" fill="#1f7a58" opacity="0.5"/>
<circle cx="566.1" cy="75.6" r="0.45" fill="#1f7a58" opacity="0.5"/>
<circle cx="567.4" cy="75.3" r="0.45" fill="#1f7a58" opacity="0.5"/>
<circle cx="565.5" cy="110.9" r="0.45" fill="#1f7a58" opacity="0.5"/>
<circle cx="565.5" cy="127.9" r="0.45" fill="#1f7a58" opacity="0.5"/>
<circle cx="570.1" cy="108.6" r="0.45" fill="#1f7a58" opacity="0.5"/>
<circle cx="565.3" cy="79.3" r="0.45" fill="#1f7a58" opacity="0.5"/>
<circle cx="565.7" cy="101.2" r="0.45" fill="#1f7a58" opacity="0.5"/>
<circle cx="566.5" cy="81.2" r="0.45" fill="#1f7a58" opacity="0.5"/>
<circle cx="565.6" cy="71.8" r="0.45" fill="#1f7a58" opacity="0.5"/>
<circle cx="572.6" cy="96.0" r="0.45" fill="#1f7a58" opacity="0.5"/>
<circle cx="570.9" cy="100.6" r="0.45" fill="#1f7a58" opacity="0.5"/>
<circle cx="571.1" cy="99.5" r="0.45" fill="#1f7a58" opacity="0.5"/>
<circle cx="567.7" cy="97.0" r="0.45" fill="#1f7a58" opacity="0.5"/>
<circle cx="565.4" cy="128.9" r="0.45" fill="#1f7a58" opacity="0.5"/>
<circle cx="568.5" cy="119.6" r="0.45" fill="#1f7a58" opacity="0.5"/>
<circle cx="567.0" cy="88.6" r="0.45" fill="#1f7a58" opacity="0.5"/>
<circle cx="565.7" cy="87.1" r="0.45" fill="#1f7a58" opacity="0.5"/>
<circle cx="567.7" cy="115.2" r="0.45" fill="#1f7a58" opacity="0.5"/>
<circle cx="566.9" cy="119.9" r="0.45" fill="#1f7a58" opacity="0.5"/>
<circle cx="566.2" cy="126.5" r="0.45" fill="#1f7a58" opacity="0.5"/>
<circle cx="565.2" cy="70.0" r="0.45" fill="#1f7a58" opacity="0.5"/>
<circle cx="566.5" cy="123.7" r="0.45" fill="#1f7a58" opacity="0.5"/>
<circle cx="565.4" cy="127.8" r="0.45" fill="#1f7a58" opacity="0.5"/>
<circle cx="566.6" cy="74.3" r="0.45" fill="#1f7a58" opacity="0.5"/>
<circle cx="566.8" cy="115.9" r="0.45" fill="#1f7a58" opacity="0.5"/>
<circle cx="566.1" cy="75.1" r="0.45" fill="#1f7a58" opacity="0.5"/>
<circle cx="565.9" cy="126.9" r="0.45" fill="#1f7a58" opacity="0.5"/>
<circle cx="566.1" cy="77.0" r="0.45" fill="#1f7a58" opacity="0.5"/>
<circle cx="565.4" cy="76.0" r="0.45" fill="#1f7a58" opacity="0.5"/>
<circle cx="566.2" cy="117.0" r="0.45" fill="#1f7a58" opacity="0.5"/>
<circle cx="569.1" cy="103.0" r="0.45" fill="#1f7a58" opacity="0.5"/>
<circle cx="569.1" cy="81.3" r="0.45" fill="#1f7a58" opacity="0.5"/>
<circle cx="567.7" cy="77.7" r="0.45" fill="#1f7a58" opacity="0.5"/>
<circle cx="566.7" cy="76.9" r="0.45" fill="#1f7a58" opacity="0.5"/>
<circle cx="566.8" cy="82.6" r="0.45" fill="#1f7a58" opacity="0.5"/>
<circle cx="565.8" cy="127.3" r="0.45" fill="#1f7a58" opacity="0.5"/>
<circle cx="571.8" cy="87.9" r="0.45" fill="#1f7a58" opacity="0.5"/>
<circle cx="567.5" cy="82.4" r="0.45" fill="#1f7a58" opacity="0.5"/>
<circle cx="568.0" cy="120.4" r="0.45" fill="#1f7a58" opacity="0.5"/>
<circle cx="568.2" cy="75.9" r="0.45" fill="#1f7a58" opacity="0.5"/>
<circle cx="566.7" cy="82.6" r="0.45" fill="#1f7a58" opacity="0.5"/>
<circle cx="567.2" cy="115.6" r="0.45" fill="#1f7a58" opacity="0.5"/>
<circle cx="565.7" cy="87.5" r="0.45" fill="#1f7a58" opacity="0.5"/>
<circle cx="566.8" cy="75.3" r="0.45" fill="#1f7a58" opacity="0.5"/>
<circle cx="569.1" cy="84.3" r="0.45" fill="#1f7a58" opacity="0.5"/>
<circle cx="569.0" cy="91.9" r="0.45" fill="#1f7a58" opacity="0.5"/>
<circle cx="565.8" cy="126.6" r="0.45" fill="#1f7a58" opacity="0.5"/>
<circle cx="572.7" cy="103.9" r="0.45" fill="#1f7a58" opacity="0.5"/>
<circle cx="566.0" cy="80.8" r="0.45" fill="#1f7a58" opacity="0.5"/>
<circle cx="567.5" cy="123.6" r="0.45" fill="#1f7a58" opacity="0.5"/>
<circle cx="566.5" cy="84.7" r="0.45" fill="#1f7a58" opacity="0.5"/>
<circle cx="571.6" cy="113.6" r="0.45" fill="#1f7a58" opacity="0.5"/>
<circle cx="570.4" cy="81.6" r="0.45" fill="#1f7a58" opacity="0.5"/>
<circle cx="567.3" cy="122.0" r="0.45" fill="#1f7a58" opacity="0.5"/>
<circle cx="566.1" cy="94.9" r="0.45" fill="#1f7a58" opacity="0.5"/>
<circle cx="566.2" cy="72.3" r="0.45" fill="#1f7a58" opacity="0.5"/>
<circle cx="569.7" cy="84.1" r="0.45" fill="#1f7a58" opacity="0.5"/>
<circle cx="570.7" cy="85.2" r="0.45" fill="#1f7a58" opacity="0.5"/>
<circle cx="567.7" cy="105.2" r="0.45" fill="#1f7a58" opacity="0.5"/>
<circle cx="568.8" cy="80.4" r="0.45" fill="#1f7a58" opacity="0.5"/>
<circle cx="565.7" cy="74.1" r="0.45" fill="#1f7a58" opacity="0.5"/>
<circle cx="572.7" cy="103.0" r="0.45" fill="#1f7a58" opacity="0.5"/>
<circle cx="567.6" cy="106.2" r="0.45" fill="#1f7a58" opacity="0.5"/>
<circle cx="565.7" cy="124.1" r="0.45" fill="#1f7a58" opacity="0.5"/>
<circle cx="565.3" cy="71.0" r="0.45" fill="#1f7a58" opacity="0.5"/>
<circle cx="565.7" cy="96.3" r="0.45" fill="#1f7a58" opacity="0.5"/>
<circle cx="567.1" cy="80.4" r="0.45" fill="#1f7a58" opacity="0.5"/>
<circle cx="566.3" cy="103.8" r="0.45" fill="#1f7a58" opacity="0.5"/>
<circle cx="572.5" cy="91.4" r="0.45" fill="#1f7a58" opacity="0.5"/>
<circle cx="565.5" cy="127.8" r="0.45" fill="#1f7a58" opacity="0.5"/>
<circle cx="569.6" cy="110.8" r="0.45" fill="#1f7a58" opacity="0.5"/>
<circle cx="565.3" cy="78.3" r="0.45" fill="#1f7a58" opacity="0.5"/>
<circle cx="565.5" cy="71.1" r="0.45" fill="#1f7a58" opacity="0.5"/>
<circle cx="572.3" cy="111.4" r="0.45" fill="#1f7a58" opacity="0.5"/>
<circle cx="565.5" cy="71.3" r="0.45" fill="#1f7a58" opacity="0.5"/>
<circle cx="571.7" cy="98.5" r="0.45" fill="#1f7a58" opacity="0.5"/>
<circle cx="572.9" cy="88.8" r="0.45" fill="#1f7a58" opacity="0.5"/>
<circle cx="566.4" cy="74.4" r="0.45" fill="#1f7a58" opacity="0.5"/>
<circle cx="571.4" cy="113.5" r="0.45" fill="#1f7a58" opacity="0.5"/>
<circle cx="570.0" cy="113.5" r="0.45" fill="#1f7a58" opacity="0.5"/>
<circle cx="570.5" cy="116.8" r="0.45" fill="#1f7a58" opacity="0.5"/>
<circle cx="570.7" cy="90.8" r="0.45" fill="#1f7a58" opacity="0.5"/>
<circle cx="567.8" cy="123.1" r="0.45" fill="#1f7a58" opacity="0.5"/>
<circle cx="572.0" cy="94.6" r="0.45" fill="#1f7a58" opacity="0.5"/>
<circle cx="567.5" cy="120.9" r="0.45" fill="#1f7a58" opacity="0.5"/>
<circle cx="568.4" cy="106.9" r="0.45" fill="#1f7a58" opacity="0.5"/>
<circle cx="570.5" cy="104.4" r="0.45" fill="#1f7a58" opacity="0.5"/>
<circle cx="566.8" cy="74.7" r="0.45" fill="#1f7a58" opacity="0.5"/>
<circle cx="565.4" cy="128.6" r="0.45" fill="#1f7a58" opacity="0.5"/>
<circle cx="567.9" cy="113.0" r="0.45" fill="#1f7a58" opacity="0.5"/>
<circle cx="569.2" cy="113.4" r="0.45" fill="#1f7a58" opacity="0.5"/>
<circle cx="572.6" cy="96.0" r="0.45" fill="#1f7a58" opacity="0.5"/>
<circle cx="567.1" cy="74.9" r="0.45" fill="#1f7a58" opacity="0.5"/>
<circle cx="565.7" cy="71.8" r="0.45" fill="#1f7a58" opacity="0.5"/>
<circle cx="567.2" cy="98.4" r="0.45" fill="#1f7a58" opacity="0.5"/>
<circle cx="568.9" cy="111.2" r="0.45" fill="#1f7a58" opacity="0.5"/>
<circle cx="572.9" cy="106.3" r="0.45" fill="#1f7a58" opacity="0.5"/>
<circle cx="565.3" cy="85.1" r="0.45" fill="#1f7a58" opacity="0.5"/>
<circle cx="570.2" cy="87.8" r="0.45" fill="#1f7a58" opacity="0.5"/>
<circle cx="566.2" cy="82.0" r="0.45" fill="#1f7a58" opacity="0.5"/>
<circle cx="567.1" cy="123.4" r="0.45" fill="#1f7a58" opacity="0.5"/>
<circle cx="573.0" cy="96.1" r="0.45" fill="#1f7a58" opacity="0.5"/>
<circle cx="570.4" cy="89.3" r="0.45" fill="#1f7a58" opacity="0.5"/>
<circle cx="567.6" cy="81.7" r="0.45" fill="#1f7a58" opacity="0.5"/>
<circle cx="570.2" cy="117.6" r="0.45" fill="#1f7a58" opacity="0.5"/>
<circle cx="566.6" cy="121.9" r="0.45" fill="#1f7a58" opacity="0.5"/>
<circle cx="567.9" cy="104.4" r="0.45" fill="#1f7a58" opacity="0.5"/>
<circle cx="567.2" cy="78.0" r="0.45" fill="#1f7a58" opacity="0.5"/>
<circle cx="569.2" cy="119.4" r="0.45" fill="#1f7a58" opacity="0.5"/>
<circle cx="572.1" cy="112.0" r="0.45" fill="#1f7a58" opacity="0.5"/>
<circle cx="566.4" cy="86.3" r="0.45" fill="#1f7a58" opacity="0.5"/>
<circle cx="567.6" cy="96.6" r="0.45" fill="#1f7a58" opacity="0.5"/>
<circle cx="567.6" cy="82.6" r="0.45" fill="#1f7a58" opacity="0.5"/>
<circle cx="569.3" cy="106.9" r="0.45" fill="#1f7a58" opacity="0.5"/>
<circle cx="571.6" cy="88.6" r="0.45" fill="#1f7a58" opacity="0.5"/>
<circle cx="565.4" cy="127.9" r="0.45" fill="#1f7a58" opacity="0.5"/>
<circle cx="565.3" cy="74.4" r="0.45" fill="#1f7a58" opacity="0.5"/>
<circle cx="565.4" cy="121.5" r="0.45" fill="#1f7a58" opacity="0.5"/>
<circle cx="569.4" cy="111.8" r="0.45" fill="#1f7a58" opacity="0.5"/>
<circle cx="571.2" cy="88.2" r="0.45" fill="#1f7a58" opacity="0.5"/>
<circle cx="565.3" cy="71.1" r="0.45" fill="#1f7a58" opacity="0.5"/>
<circle cx="565.4" cy="96.8" r="0.45" fill="#1f7a58" opacity="0.5"/>
<circle cx="566.4" cy="119.0" r="0.45" fill="#1f7a58" opacity="0.5"/>
<circle cx="565.4" cy="78.3" r="0.45" fill="#1f7a58" opacity="0.5"/>
<circle cx="568.9" cy="107.1" r="0.45" fill="#1f7a58" opacity="0.5"/>
<circle cx="570.6" cy="107.2" r="0.45" fill="#1f7a58" opacity="0.5"/>
<circle cx="570.4" cy="117.6" r="0.45" fill="#1f7a58" opacity="0.5"/>
<circle cx="566.7" cy="110.4" r="0.45" fill="#1f7a58" opacity="0.5"/>
<circle cx="566.8" cy="98.0" r="0.45" fill="#1f7a58" opacity="0.5"/>
<circle cx="565.3" cy="70.6" r="0.45" fill="#1f7a58" opacity="0.5"/>
<circle cx="566.5" cy="112.1" r="0.45" fill="#1f7a58" opacity="0.5"/>
<circle cx="567.6" cy="86.1" r="0.45" fill="#1f7a58" opacity="0.5"/>
<circle cx="569.1" cy="111.1" r="0.45" fill="#1f7a58" opacity="0.5"/>
<circle cx="571.6" cy="106.3" r="0.45" fill="#1f7a58" opacity="0.5"/>
<circle cx="571.9" cy="93.2" r="0.45" fill="#1f7a58" opacity="0.5"/>
<circle cx="565.4" cy="123.5" r="0.45" fill="#1f7a58" opacity="0.5"/>
<circle cx="566.7" cy="125.0" r="0.45" fill="#1f7a58" opacity="0.5"/>
<circle cx="567.0" cy="77.7" r="0.45" fill="#1f7a58" opacity="0.5"/>
<circle cx="572.8" cy="106.9" r="0.45" fill="#1f7a58" opacity="0.5"/>
<circle cx="569.9" cy="92.2" r="0.45" fill="#1f7a58" opacity="0.5"/>
<circle cx="568.1" cy="121.9" r="0.45" fill="#1f7a58" opacity="0.5"/>
<circle cx="566.0" cy="125.7" r="0.45" fill="#1f7a58" opacity="0.5"/>
<circle cx="566.9" cy="108.4" r="0.45" fill="#1f7a58" opacity="0.5"/>
<circle cx="571.0" cy="112.6" r="0.45" fill="#1f7a58" opacity="0.5"/>
<circle cx="571.1" cy="107.9" r="0.45" fill="#1f7a58" opacity="0.5"/>
<line x1="544.00" y1="83.70" x2="555.00" y2="83.70" stroke="#f2a72e" stroke-width="1.5" />
<line x1="544.30" y1="81.50" x2="544.30" y2="85.90" stroke="#f2a72e" stroke-width="1.2" />
<line x1="544.00" y1="103.60" x2="555.00" y2="103.60" stroke="#f2a72e" stroke-width="1.5" />
<line x1="544.30" y1="101.40" x2="544.30" y2="105.80" stroke="#f2a72e" stroke-width="1.2" />
<line x1="544.00" y1="122.20" x2="555.00" y2="122.20" stroke="#f2a72e" stroke-width="1.5" />
<line x1="544.30" y1="120.00" x2="544.30" y2="124.40" stroke="#f2a72e" stroke-width="1.2" />
<circle cx="561.1" cy="74.4" r="0.95" fill="#f2b233"/>
<circle cx="557.7" cy="82.7" r="0.95" fill="#f2b233"/>
<circle cx="559.5" cy="92.5" r="0.95" fill="#f2b233"/>
<circle cx="562.1" cy="105.2" r="0.95" fill="#f2b233"/>
<circle cx="560.1" cy="115.2" r="0.95" fill="#f2b233"/>
<circle cx="560.7" cy="120.6" r="0.95" fill="#f2b233"/>
<circle cx="550" cy="96.1" r="0.95" fill="#f2b233"/>
<circle cx="553" cy="99.1" r="0.95" fill="#f2b233"/>
<circle cx="554" cy="110.2" r="0.95" fill="#f2b233"/>
<circle cx="547" cy="113.8" r="0.95" fill="#f2b233"/>
<path d="M581,84 Q570,100 580.5,117" fill="none" stroke="#f8b3a8" stroke-width="0.8"/>
<circle cx="570.1" cy="82.1" r="0.95" fill="#f29585"/>
<circle cx="576.2" cy="85.1" r="0.95" fill="#f29585"/>
<circle cx="582.2" cy="88.1" r="0.95" fill="#f29585"/>
<circle cx="568.1" cy="94.1" r="0.95" fill="#f29585"/>
<circle cx="571.1" cy="100.2" r="0.95" fill="#f29585"/>
<circle cx="575.2" cy="101.2" r="0.95" fill="#f29585"/>
<circle cx="570.7" cy="105.2" r="0.95" fill="#f29585"/>
<circle cx="572.1" cy="111.2" r="0.95" fill="#f29585"/>
<circle cx="575.2" cy="114.2" r="0.95" fill="#f29585"/>
<circle cx="578.2" cy="117.2" r="0.95" fill="#f29585"/>
<circle cx="581.2" cy="110.2" r="0.95" fill="#f29585"/>
<circle cx="580.2" cy="82.1" r="0.95" fill="#f29585"/>
<text transform="translate(577.00,78.60) scale(1,1.08)" font-size="8.2" fill="#f07565" text-anchor="start" font-weight="bold"  style="" stroke="#f07565" stroke-width="0.15">Anion</text>
<text transform="translate(586.80,89.70) scale(1,1.08)" font-size="7.5" fill="#f07565" text-anchor="start" font-weight="normal"  style="" stroke="#f07565" stroke-width="0.15">Negatively-Charged Surface</text>
<text transform="translate(632.20,98.30) scale(1,1.08)" font-size="7.6" fill="#111" text-anchor="middle" font-weight="normal"  style="" stroke="#111" stroke-width="0.15">Ion-selection layer</text>
<text transform="translate(632.20,108.00) scale(1,1.08)" font-size="7.6" fill="#111" text-anchor="middle" font-weight="normal"  style="" stroke="#111" stroke-width="0.15">(Zeolite membrane)</text>
<text transform="translate(524.00,120.60) scale(1,1.08)" font-size="8.2" fill="#f6c01e" text-anchor="start" font-weight="bold"  style="" stroke="#f6c01e" stroke-width="0.15">Cation</text>
<text transform="translate(512.00,144.00) scale(1,1.08)" font-size="7.6" fill="#111" text-anchor="start" font-weight="normal"  style="" stroke="#111" stroke-width="0.15">PES substrate</text>
<text transform="translate(568.50,144.00) scale(1,1.08)" font-size="7.6" fill="#111" text-anchor="start" font-weight="normal"  style="" stroke="#111" stroke-width="0.15">CNT layer</text>
<line x1="571.00" y1="119.50" x2="598.20" y2="112.00" stroke="#555" stroke-width="0.6" />
<line x1="571.00" y1="124.00" x2="599.00" y2="128.10" stroke="#555" stroke-width="0.6" />
<line x1="547.00" y1="134.50" x2="556.00" y2="129.00" stroke="#444" stroke-width="0.6" />
<line x1="576.50" y1="134.50" x2="571.50" y2="130.50" stroke="#444" stroke-width="0.6" />
<line x1="614.50" y1="113.50" x2="616.30" y2="109.30" stroke="#444" stroke-width="0.6" />
<circle cx="604.8" cy="120.2" r="9.5" fill="#5fdaa6"/>
<circle cx="600.0" cy="114.1" r="1.05" fill="#2a4f44"/>
<circle cx="599.5" cy="113.5" r="0.35" fill="#c0f0dc"/>
<circle cx="603.8" cy="114.1" r="1.05" fill="#2a4f44"/>
<circle cx="603.3" cy="113.5" r="0.35" fill="#c0f0dc"/>
<circle cx="607.6" cy="114.1" r="1.05" fill="#2a4f44"/>
<circle cx="607.1" cy="113.5" r="0.35" fill="#c0f0dc"/>
<circle cx="598.1" cy="117.6" r="1.05" fill="#2a4f44"/>
<circle cx="597.6" cy="117.0" r="0.35" fill="#c0f0dc"/>
<circle cx="601.9" cy="117.6" r="1.05" fill="#2a4f44"/>
<circle cx="601.4" cy="117.0" r="0.35" fill="#c0f0dc"/>
<circle cx="605.7" cy="117.6" r="1.05" fill="#2a4f44"/>
<circle cx="605.2" cy="117.0" r="0.35" fill="#c0f0dc"/>
<circle cx="609.5" cy="117.6" r="1.05" fill="#2a4f44"/>
<circle cx="609.0" cy="117.0" r="0.35" fill="#c0f0dc"/>
<circle cx="596.2" cy="121.1" r="1.05" fill="#2a4f44"/>
<circle cx="595.7" cy="120.5" r="0.35" fill="#c0f0dc"/>
<circle cx="600.0" cy="121.1" r="1.05" fill="#2a4f44"/>
<circle cx="599.5" cy="120.5" r="0.35" fill="#c0f0dc"/>
<circle cx="603.8" cy="121.1" r="1.05" fill="#2a4f44"/>
<circle cx="603.3" cy="120.5" r="0.35" fill="#c0f0dc"/>
<circle cx="607.6" cy="121.1" r="1.05" fill="#2a4f44"/>
<circle cx="607.1" cy="120.5" r="0.35" fill="#c0f0dc"/>
<circle cx="611.4" cy="121.1" r="1.05" fill="#2a4f44"/>
<circle cx="610.9" cy="120.5" r="0.35" fill="#c0f0dc"/>
<circle cx="598.1" cy="124.6" r="1.05" fill="#2a4f44"/>
<circle cx="597.6" cy="124.0" r="0.35" fill="#c0f0dc"/>
<circle cx="601.9" cy="124.6" r="1.05" fill="#2a4f44"/>
<circle cx="601.4" cy="124.0" r="0.35" fill="#c0f0dc"/>
<circle cx="605.7" cy="124.6" r="1.05" fill="#2a4f44"/>
<circle cx="605.2" cy="124.0" r="0.35" fill="#c0f0dc"/>
<circle cx="609.5" cy="124.6" r="1.05" fill="#2a4f44"/>
<circle cx="609.0" cy="124.0" r="0.35" fill="#c0f0dc"/>
<circle cx="603.8" cy="128.1" r="1.05" fill="#2a4f44"/>
<circle cx="603.3" cy="127.5" r="0.35" fill="#c0f0dc"/>
<circle cx="607.6" cy="128.1" r="1.05" fill="#2a4f44"/>
<circle cx="607.1" cy="127.5" r="0.35" fill="#c0f0dc"/>
<text transform="translate(8.90,186.70) scale(1,1.08)" font-size="9.3" fill="#000" text-anchor="start" font-weight="bold"  style="" stroke="#000" stroke-width="0.15">d</text>
<line x1="30.40" y1="193.70" x2="202.00" y2="193.70" stroke="#555" stroke-width="1" />
<line x1="30.40" y1="331.70" x2="202.00" y2="331.70" stroke="#222" stroke-width="1.1" />
<line x1="30.40" y1="193.70" x2="30.40" y2="331.70" stroke="#2b3d80" stroke-width="1.0" />
<line x1="202.00" y1="193.70" x2="202.00" y2="331.70" stroke="#f06a5a" stroke-width="1.2" />
<line x1="27.90" y1="320.10" x2="30.40" y2="320.10" stroke="#1b2e72" stroke-width="1" />
<text transform="translate(25.40,323.10) scale(1,1.08)" font-size="8.6" fill="#1b2e72" text-anchor="end" font-weight="bold"  style="" stroke="#1b2e72" stroke-width="0.15">0</text>
<line x1="27.90" y1="297.12" x2="30.40" y2="297.12" stroke="#1b2e72" stroke-width="1" />
<text transform="translate(25.40,300.12) scale(1,1.08)" font-size="8.6" fill="#1b2e72" text-anchor="end" font-weight="bold"  style="" stroke="#1b2e72" stroke-width="0.15">5</text>
<line x1="27.90" y1="274.13" x2="30.40" y2="274.13" stroke="#1b2e72" stroke-width="1" />
<text transform="translate(25.40,277.13) scale(1,1.08)" font-size="8.6" fill="#1b2e72" text-anchor="end" font-weight="bold"  style="" stroke="#1b2e72" stroke-width="0.15">10</text>
<line x1="27.90" y1="251.15" x2="30.40" y2="251.15" stroke="#1b2e72" stroke-width="1" />
<text transform="translate(25.40,254.15) scale(1,1.08)" font-size="8.6" fill="#1b2e72" text-anchor="end" font-weight="bold"  style="" stroke="#1b2e72" stroke-width="0.15">15</text>
<line x1="27.90" y1="228.16" x2="30.40" y2="228.16" stroke="#1b2e72" stroke-width="1" />
<text transform="translate(25.40,231.16) scale(1,1.08)" font-size="8.6" fill="#1b2e72" text-anchor="end" font-weight="bold"  style="" stroke="#1b2e72" stroke-width="0.15">20</text>
<line x1="27.90" y1="205.18" x2="30.40" y2="205.18" stroke="#1b2e72" stroke-width="1" />
<text transform="translate(25.40,208.18) scale(1,1.08)" font-size="8.6" fill="#1b2e72" text-anchor="end" font-weight="bold"  style="" stroke="#1b2e72" stroke-width="0.15">25</text>
<line x1="29.00" y1="308.61" x2="30.40" y2="308.61" stroke="#1b2e72" stroke-width="0.8" />
<line x1="29.00" y1="285.62" x2="30.40" y2="285.62" stroke="#1b2e72" stroke-width="0.8" />
<line x1="29.00" y1="262.64" x2="30.40" y2="262.64" stroke="#1b2e72" stroke-width="0.8" />
<line x1="29.00" y1="239.65" x2="30.40" y2="239.65" stroke="#1b2e72" stroke-width="0.8" />
<line x1="29.00" y1="216.67" x2="30.40" y2="216.67" stroke="#1b2e72" stroke-width="0.8" />
<line x1="202.00" y1="322.40" x2="204.50" y2="322.40" stroke="#f06a5a" stroke-width="1" />
<text transform="translate(207.00,325.40) scale(1,1.08)" font-size="8.6" fill="#f06a5a" text-anchor="start" font-weight="bold"  style="" stroke="#f06a5a" stroke-width="0.15">0</text>
<line x1="202.00" y1="304.01" x2="204.50" y2="304.01" stroke="#f06a5a" stroke-width="1" />
<text transform="translate(207.00,307.01) scale(1,1.08)" font-size="8.6" fill="#f06a5a" text-anchor="start" font-weight="bold"  style="" stroke="#f06a5a" stroke-width="0.15">200</text>
<line x1="202.00" y1="285.63" x2="204.50" y2="285.63" stroke="#f06a5a" stroke-width="1" />
<text transform="translate(207.00,288.63) scale(1,1.08)" font-size="8.6" fill="#f06a5a" text-anchor="start" font-weight="bold"  style="" stroke="#f06a5a" stroke-width="0.15">400</text>
<line x1="202.00" y1="267.24" x2="204.50" y2="267.24" stroke="#f06a5a" stroke-width="1" />
<text transform="translate(207.00,270.24) scale(1,1.08)" font-size="8.6" fill="#f06a5a" text-anchor="start" font-weight="bold"  style="" stroke="#f06a5a" stroke-width="0.15">600</text>
<line x1="202.00" y1="248.86" x2="204.50" y2="248.86" stroke="#f06a5a" stroke-width="1" />
<text transform="translate(207.00,251.86) scale(1,1.08)" font-size="8.6" fill="#f06a5a" text-anchor="start" font-weight="bold"  style="" stroke="#f06a5a" stroke-width="0.15">800</text>
<line x1="202.00" y1="230.47" x2="204.50" y2="230.47" stroke="#f06a5a" stroke-width="1" />
<text transform="translate(207.00,233.47) scale(1,1.08)" font-size="8.6" fill="#f06a5a" text-anchor="start" font-weight="bold"  style="" stroke="#f06a5a" stroke-width="0.15">1000</text>
<line x1="202.00" y1="212.08" x2="204.50" y2="212.08" stroke="#f06a5a" stroke-width="1" />
<text transform="translate(207.00,215.08) scale(1,1.08)" font-size="8.6" fill="#f06a5a" text-anchor="start" font-weight="bold"  style="" stroke="#f06a5a" stroke-width="0.15">1200</text>
<line x1="202.00" y1="193.70" x2="204.50" y2="193.70" stroke="#f06a5a" stroke-width="1" />
<text transform="translate(207.00,196.70) scale(1,1.08)" font-size="8.6" fill="#f06a5a" text-anchor="start" font-weight="bold"  style="" stroke="#f06a5a" stroke-width="0.15">1400</text>
<line x1="202.00" y1="313.21" x2="203.40" y2="313.21" stroke="#f06a5a" stroke-width="0.8" />
<line x1="202.00" y1="294.82" x2="203.40" y2="294.82" stroke="#f06a5a" stroke-width="0.8" />
<line x1="202.00" y1="276.44" x2="203.40" y2="276.44" stroke="#f06a5a" stroke-width="0.8" />
<line x1="202.00" y1="258.05" x2="203.40" y2="258.05" stroke="#f06a5a" stroke-width="0.8" />
<line x1="202.00" y1="239.66" x2="203.40" y2="239.66" stroke="#f06a5a" stroke-width="0.8" />
<line x1="202.00" y1="221.28" x2="203.40" y2="221.28" stroke="#f06a5a" stroke-width="0.8" />
<line x1="202.00" y1="202.89" x2="203.40" y2="202.89" stroke="#f06a5a" stroke-width="0.8" />
<line x1="30.40" y1="331.70" x2="30.40" y2="334.30" stroke="#222" stroke-width="1" />
<text transform="translate(31.20,345.00) scale(1,1.08)" font-size="8.6" fill="#000" text-anchor="middle" font-weight="bold" stroke="#000" stroke-width="0.15">10<tspan font-size="5.85" dx="-0.3" dy="-3.61">1</tspan></text>
<line x1="40.71" y1="331.70" x2="40.71" y2="333.10" stroke="#222" stroke-width="0.8" />
<line x1="46.74" y1="331.70" x2="46.74" y2="333.10" stroke="#222" stroke-width="0.8" />
<line x1="51.02" y1="331.70" x2="51.02" y2="333.10" stroke="#222" stroke-width="0.8" />
<line x1="54.34" y1="331.70" x2="54.34" y2="333.10" stroke="#222" stroke-width="0.8" />
<line x1="57.05" y1="331.70" x2="57.05" y2="333.10" stroke="#222" stroke-width="0.8" />
<line x1="59.34" y1="331.70" x2="59.34" y2="333.10" stroke="#222" stroke-width="0.8" />
<line x1="61.33" y1="331.70" x2="61.33" y2="333.10" stroke="#222" stroke-width="0.8" />
<line x1="63.08" y1="331.70" x2="63.08" y2="333.10" stroke="#222" stroke-width="0.8" />
<line x1="64.65" y1="331.70" x2="64.65" y2="334.30" stroke="#222" stroke-width="1" />
<text transform="translate(65.45,345.00) scale(1,1.08)" font-size="8.6" fill="#000" text-anchor="middle" font-weight="bold" stroke="#000" stroke-width="0.15">10<tspan font-size="5.85" dx="-0.3" dy="-3.61">2</tspan></text>
<line x1="74.96" y1="331.70" x2="74.96" y2="333.10" stroke="#222" stroke-width="0.8" />
<line x1="80.99" y1="331.70" x2="80.99" y2="333.10" stroke="#222" stroke-width="0.8" />
<line x1="85.27" y1="331.70" x2="85.27" y2="333.10" stroke="#222" stroke-width="0.8" />
<line x1="88.59" y1="331.70" x2="88.59" y2="333.10" stroke="#222" stroke-width="0.8" />
<line x1="91.30" y1="331.70" x2="91.30" y2="333.10" stroke="#222" stroke-width="0.8" />
<line x1="93.59" y1="331.70" x2="93.59" y2="333.10" stroke="#222" stroke-width="0.8" />
<line x1="95.58" y1="331.70" x2="95.58" y2="333.10" stroke="#222" stroke-width="0.8" />
<line x1="97.33" y1="331.70" x2="97.33" y2="333.10" stroke="#222" stroke-width="0.8" />
<line x1="98.90" y1="331.70" x2="98.90" y2="334.30" stroke="#222" stroke-width="1" />
<text transform="translate(99.70,345.00) scale(1,1.08)" font-size="8.6" fill="#000" text-anchor="middle" font-weight="bold" stroke="#000" stroke-width="0.15">10<tspan font-size="5.85" dx="-0.3" dy="-3.61">3</tspan></text>
<line x1="109.21" y1="331.70" x2="109.21" y2="333.10" stroke="#222" stroke-width="0.8" />
<line x1="115.24" y1="331.70" x2="115.24" y2="333.10" stroke="#222" stroke-width="0.8" />
<line x1="119.52" y1="331.70" x2="119.52" y2="333.10" stroke="#222" stroke-width="0.8" />
<line x1="122.84" y1="331.70" x2="122.84" y2="333.10" stroke="#222" stroke-width="0.8" />
<line x1="125.55" y1="331.70" x2="125.55" y2="333.10" stroke="#222" stroke-width="0.8" />
<line x1="127.84" y1="331.70" x2="127.84" y2="333.10" stroke="#222" stroke-width="0.8" />
<line x1="129.83" y1="331.70" x2="129.83" y2="333.10" stroke="#222" stroke-width="0.8" />
<line x1="131.58" y1="331.70" x2="131.58" y2="333.10" stroke="#222" stroke-width="0.8" />
<line x1="133.15" y1="331.70" x2="133.15" y2="334.30" stroke="#222" stroke-width="1" />
<text transform="translate(133.95,345.00) scale(1,1.08)" font-size="8.6" fill="#000" text-anchor="middle" font-weight="bold" stroke="#000" stroke-width="0.15">10<tspan font-size="5.85" dx="-0.3" dy="-3.61">4</tspan></text>
<line x1="143.46" y1="331.70" x2="143.46" y2="333.10" stroke="#222" stroke-width="0.8" />
<line x1="149.49" y1="331.70" x2="149.49" y2="333.10" stroke="#222" stroke-width="0.8" />
<line x1="153.77" y1="331.70" x2="153.77" y2="333.10" stroke="#222" stroke-width="0.8" />
<line x1="157.09" y1="331.70" x2="157.09" y2="333.10" stroke="#222" stroke-width="0.8" />
<line x1="159.80" y1="331.70" x2="159.80" y2="333.10" stroke="#222" stroke-width="0.8" />
<line x1="162.09" y1="331.70" x2="162.09" y2="333.10" stroke="#222" stroke-width="0.8" />
<line x1="164.08" y1="331.70" x2="164.08" y2="333.10" stroke="#222" stroke-width="0.8" />
<line x1="165.83" y1="331.70" x2="165.83" y2="333.10" stroke="#222" stroke-width="0.8" />
<line x1="167.40" y1="331.70" x2="167.40" y2="334.30" stroke="#222" stroke-width="1" />
<text transform="translate(168.20,345.00) scale(1,1.08)" font-size="8.6" fill="#000" text-anchor="middle" font-weight="bold" stroke="#000" stroke-width="0.15">10<tspan font-size="5.85" dx="-0.3" dy="-3.61">5</tspan></text>
<line x1="177.71" y1="331.70" x2="177.71" y2="333.10" stroke="#222" stroke-width="0.8" />
<line x1="183.74" y1="331.70" x2="183.74" y2="333.10" stroke="#222" stroke-width="0.8" />
<line x1="188.02" y1="331.70" x2="188.02" y2="333.10" stroke="#222" stroke-width="0.8" />
<line x1="191.34" y1="331.70" x2="191.34" y2="333.10" stroke="#222" stroke-width="0.8" />
<line x1="194.05" y1="331.70" x2="194.05" y2="333.10" stroke="#222" stroke-width="0.8" />
<line x1="196.34" y1="331.70" x2="196.34" y2="333.10" stroke="#222" stroke-width="0.8" />
<line x1="198.33" y1="331.70" x2="198.33" y2="333.10" stroke="#222" stroke-width="0.8" />
<line x1="200.08" y1="331.70" x2="200.08" y2="333.10" stroke="#222" stroke-width="0.8" />
<line x1="201.65" y1="331.70" x2="201.65" y2="334.30" stroke="#222" stroke-width="1" />
<text transform="translate(202.45,345.00) scale(1,1.08)" font-size="8.6" fill="#000" text-anchor="middle" font-weight="bold" stroke="#000" stroke-width="0.15">10<tspan font-size="5.85" dx="-0.3" dy="-3.61">6</tspan></text>
<text transform="translate(116.50,361.00) scale(1,1.08)" font-size="9" fill="#000" text-anchor="middle" font-weight="bold"  style="" stroke="#000" stroke-width="0.15">Resistance (Ω)</text>
<text transform="translate(11,262) rotate(-90) scale(1,1.08)" font-size="9" fill="#1b2e72" text-anchor="middle" font-weight="bold" stroke="#1b2e72" stroke-width="0.15">Power Density (W m<tspan font-size="6" dy="-3.3">-2</tspan><tspan dy="3.3">)</tspan></text>
<text transform="translate(229.1,264.5) rotate(90) scale(1,1.08)" font-size="9.3" fill="#f06a5a" text-anchor="middle" font-weight="bold" stroke="#f06a5a" stroke-width="0.15">Current Density (A m<tspan font-size="6" dy="-3.3">-2</tspan><tspan dy="3.3">)</tspan></text>
<polyline points="30.40,204.50 40.71,206.30 51.02,207.60 57.05,209.10 61.33,210.40 64.65,211.10 74.96,217.60 85.27,228.50 91.30,236.70 95.58,243.70 98.90,249.30 109.21,269.20 119.52,288.10 125.55,296.60 129.83,301.90 133.15,305.00 143.46,312.90 153.77,317.60 159.80,319.50 164.08,320.30 167.40,320.80 177.71,321.60 188.02,322.00 194.05,322.40 198.33,322.50 201.65,322.50" fill="none" stroke="#f06a5a" stroke-width="1.5" stroke-linejoin="round" />
<polyline points="30.40,317.20 40.71,314.60 51.02,309.50 57.05,304.30 61.33,299.70 64.65,294.80 74.96,274.30 85.27,246.80 91.30,229.00 95.58,217.40 98.90,210.50 109.21,203.00 119.52,221.80 125.55,237.60 129.83,249.80 133.15,258.70 143.46,283.60 153.77,300.20 159.80,306.30 164.08,309.30 167.40,311.30 177.71,315.60 188.02,317.90 194.05,318.20 198.33,318.40 201.65,318.50" fill="none" stroke="#1b2e72" stroke-width="1.5" stroke-linejoin="round" />
<path d="M26.80,204.50 L30.40,200.90 L34.00,204.50 Z" fill="#fff" stroke="#f06a5a" stroke-width="0.8"/>
<path d="M26.80,204.50 L30.40,208.10 L34.00,204.50 Z" fill="#f06a5a" stroke="#f06a5a" stroke-width="0.8"/>
<path d="M37.11,206.30 L40.71,202.70 L44.31,206.30 Z" fill="#fff" stroke="#f06a5a" stroke-width="0.8"/>
<path d="M37.11,206.30 L40.71,209.90 L44.31,206.30 Z" fill="#f06a5a" stroke="#f06a5a" stroke-width="0.8"/>
<path d="M47.42,207.60 L51.02,204.00 L54.62,207.60 Z" fill="#fff" stroke="#f06a5a" stroke-width="0.8"/>
<path d="M47.42,207.60 L51.02,211.20 L54.62,207.60 Z" fill="#f06a5a" stroke="#f06a5a" stroke-width="0.8"/>
<path d="M53.45,209.10 L57.05,205.50 L60.65,209.10 Z" fill="#fff" stroke="#f06a5a" stroke-width="0.8"/>
<path d="M53.45,209.10 L57.05,212.70 L60.65,209.10 Z" fill="#f06a5a" stroke="#f06a5a" stroke-width="0.8"/>
<path d="M57.73,210.40 L61.33,206.80 L64.93,210.40 Z" fill="#fff" stroke="#f06a5a" stroke-width="0.8"/>
<path d="M57.73,210.40 L61.33,214.00 L64.93,210.40 Z" fill="#f06a5a" stroke="#f06a5a" stroke-width="0.8"/>
<path d="M61.05,211.10 L64.65,207.50 L68.25,211.10 Z" fill="#fff" stroke="#f06a5a" stroke-width="0.8"/>
<path d="M61.05,211.10 L64.65,214.70 L68.25,211.10 Z" fill="#f06a5a" stroke="#f06a5a" stroke-width="0.8"/>
<path d="M71.36,217.60 L74.96,214.00 L78.56,217.60 Z" fill="#fff" stroke="#f06a5a" stroke-width="0.8"/>
<path d="M71.36,217.60 L74.96,221.20 L78.56,217.60 Z" fill="#f06a5a" stroke="#f06a5a" stroke-width="0.8"/>
<path d="M81.67,228.50 L85.27,224.90 L88.87,228.50 Z" fill="#fff" stroke="#f06a5a" stroke-width="0.8"/>
<path d="M81.67,228.50 L85.27,232.10 L88.87,228.50 Z" fill="#f06a5a" stroke="#f06a5a" stroke-width="0.8"/>
<path d="M87.70,236.70 L91.30,233.10 L94.90,236.70 Z" fill="#fff" stroke="#f06a5a" stroke-width="0.8"/>
<path d="M87.70,236.70 L91.30,240.30 L94.90,236.70 Z" fill="#f06a5a" stroke="#f06a5a" stroke-width="0.8"/>
<path d="M91.98,243.70 L95.58,240.10 L99.18,243.70 Z" fill="#fff" stroke="#f06a5a" stroke-width="0.8"/>
<path d="M91.98,243.70 L95.58,247.30 L99.18,243.70 Z" fill="#f06a5a" stroke="#f06a5a" stroke-width="0.8"/>
<path d="M95.30,249.30 L98.90,245.70 L102.50,249.30 Z" fill="#fff" stroke="#f06a5a" stroke-width="0.8"/>
<path d="M95.30,249.30 L98.90,252.90 L102.50,249.30 Z" fill="#f06a5a" stroke="#f06a5a" stroke-width="0.8"/>
<path d="M105.61,269.20 L109.21,265.60 L112.81,269.20 Z" fill="#fff" stroke="#f06a5a" stroke-width="0.8"/>
<path d="M105.61,269.20 L109.21,272.80 L112.81,269.20 Z" fill="#f06a5a" stroke="#f06a5a" stroke-width="0.8"/>
<path d="M115.92,288.10 L119.52,284.50 L123.12,288.10 Z" fill="#fff" stroke="#f06a5a" stroke-width="0.8"/>
<path d="M115.92,288.10 L119.52,291.70 L123.12,288.10 Z" fill="#f06a5a" stroke="#f06a5a" stroke-width="0.8"/>
<path d="M121.95,296.60 L125.55,293.00 L129.15,296.60 Z" fill="#fff" stroke="#f06a5a" stroke-width="0.8"/>
<path d="M121.95,296.60 L125.55,300.20 L129.15,296.60 Z" fill="#f06a5a" stroke="#f06a5a" stroke-width="0.8"/>
<path d="M126.23,301.90 L129.83,298.30 L133.43,301.90 Z" fill="#fff" stroke="#f06a5a" stroke-width="0.8"/>
<path d="M126.23,301.90 L129.83,305.50 L133.43,301.90 Z" fill="#f06a5a" stroke="#f06a5a" stroke-width="0.8"/>
<path d="M129.55,305.00 L133.15,301.40 L136.75,305.00 Z" fill="#fff" stroke="#f06a5a" stroke-width="0.8"/>
<path d="M129.55,305.00 L133.15,308.60 L136.75,305.00 Z" fill="#f06a5a" stroke="#f06a5a" stroke-width="0.8"/>
<path d="M139.86,312.90 L143.46,309.30 L147.06,312.90 Z" fill="#fff" stroke="#f06a5a" stroke-width="0.8"/>
<path d="M139.86,312.90 L143.46,316.50 L147.06,312.90 Z" fill="#f06a5a" stroke="#f06a5a" stroke-width="0.8"/>
<path d="M150.17,317.60 L153.77,314.00 L157.37,317.60 Z" fill="#fff" stroke="#f06a5a" stroke-width="0.8"/>
<path d="M150.17,317.60 L153.77,321.20 L157.37,317.60 Z" fill="#f06a5a" stroke="#f06a5a" stroke-width="0.8"/>
<path d="M156.20,319.50 L159.80,315.90 L163.40,319.50 Z" fill="#fff" stroke="#f06a5a" stroke-width="0.8"/>
<path d="M156.20,319.50 L159.80,323.10 L163.40,319.50 Z" fill="#f06a5a" stroke="#f06a5a" stroke-width="0.8"/>
<path d="M160.48,320.30 L164.08,316.70 L167.68,320.30 Z" fill="#fff" stroke="#f06a5a" stroke-width="0.8"/>
<path d="M160.48,320.30 L164.08,323.90 L167.68,320.30 Z" fill="#f06a5a" stroke="#f06a5a" stroke-width="0.8"/>
<path d="M163.80,320.80 L167.40,317.20 L171.00,320.80 Z" fill="#fff" stroke="#f06a5a" stroke-width="0.8"/>
<path d="M163.80,320.80 L167.40,324.40 L171.00,320.80 Z" fill="#f06a5a" stroke="#f06a5a" stroke-width="0.8"/>
<path d="M174.11,321.60 L177.71,318.00 L181.31,321.60 Z" fill="#fff" stroke="#f06a5a" stroke-width="0.8"/>
<path d="M174.11,321.60 L177.71,325.20 L181.31,321.60 Z" fill="#f06a5a" stroke="#f06a5a" stroke-width="0.8"/>
<path d="M184.42,322.00 L188.02,318.40 L191.62,322.00 Z" fill="#fff" stroke="#f06a5a" stroke-width="0.8"/>
<path d="M184.42,322.00 L188.02,325.60 L191.62,322.00 Z" fill="#f06a5a" stroke="#f06a5a" stroke-width="0.8"/>
<path d="M190.45,322.40 L194.05,318.80 L197.65,322.40 Z" fill="#fff" stroke="#f06a5a" stroke-width="0.8"/>
<path d="M190.45,322.40 L194.05,326.00 L197.65,322.40 Z" fill="#f06a5a" stroke="#f06a5a" stroke-width="0.8"/>
<path d="M194.73,322.50 L198.33,318.90 L201.93,322.50 Z" fill="#fff" stroke="#f06a5a" stroke-width="0.8"/>
<path d="M194.73,322.50 L198.33,326.10 L201.93,322.50 Z" fill="#f06a5a" stroke="#f06a5a" stroke-width="0.8"/>
<path d="M198.05,322.50 L201.65,318.90 L205.25,322.50 Z" fill="#fff" stroke="#f06a5a" stroke-width="0.8"/>
<path d="M198.05,322.50 L201.65,326.10 L205.25,322.50 Z" fill="#f06a5a" stroke="#f06a5a" stroke-width="0.8"/>
<circle cx="30.40" cy="317.20" r="2.9" fill="#fff" stroke="#1b2e72" stroke-width="0.9"/>
<path d="M27.50,317.20 A2.9,2.9 0 0 1 33.30,317.20 Z" fill="#1b2e72"/>
<circle cx="40.71" cy="314.60" r="2.9" fill="#fff" stroke="#1b2e72" stroke-width="0.9"/>
<path d="M37.81,314.60 A2.9,2.9 0 0 1 43.61,314.60 Z" fill="#1b2e72"/>
<circle cx="51.02" cy="309.50" r="2.9" fill="#fff" stroke="#1b2e72" stroke-width="0.9"/>
<path d="M48.12,309.50 A2.9,2.9 0 0 1 53.92,309.50 Z" fill="#1b2e72"/>
<circle cx="57.05" cy="304.30" r="2.9" fill="#fff" stroke="#1b2e72" stroke-width="0.9"/>
<path d="M54.15,304.30 A2.9,2.9 0 0 1 59.95,304.30 Z" fill="#1b2e72"/>
<circle cx="61.33" cy="299.70" r="2.9" fill="#fff" stroke="#1b2e72" stroke-width="0.9"/>
<path d="M58.43,299.70 A2.9,2.9 0 0 1 64.23,299.70 Z" fill="#1b2e72"/>
<circle cx="64.65" cy="294.80" r="2.9" fill="#fff" stroke="#1b2e72" stroke-width="0.9"/>
<path d="M61.75,294.80 A2.9,2.9 0 0 1 67.55,294.80 Z" fill="#1b2e72"/>
<circle cx="74.96" cy="274.30" r="2.9" fill="#fff" stroke="#1b2e72" stroke-width="0.9"/>
<path d="M72.06,274.30 A2.9,2.9 0 0 1 77.86,274.30 Z" fill="#1b2e72"/>
<circle cx="85.27" cy="246.80" r="2.9" fill="#fff" stroke="#1b2e72" stroke-width="0.9"/>
<path d="M82.37,246.80 A2.9,2.9 0 0 1 88.17,246.80 Z" fill="#1b2e72"/>
<circle cx="91.30" cy="229.00" r="2.9" fill="#fff" stroke="#1b2e72" stroke-width="0.9"/>
<path d="M88.40,229.00 A2.9,2.9 0 0 1 94.20,229.00 Z" fill="#1b2e72"/>
<circle cx="95.58" cy="217.40" r="2.9" fill="#fff" stroke="#1b2e72" stroke-width="0.9"/>
<path d="M92.68,217.40 A2.9,2.9 0 0 1 98.48,217.40 Z" fill="#1b2e72"/>
<circle cx="98.90" cy="210.50" r="2.9" fill="#fff" stroke="#1b2e72" stroke-width="0.9"/>
<path d="M96.00,210.50 A2.9,2.9 0 0 1 101.80,210.50 Z" fill="#1b2e72"/>
<circle cx="109.21" cy="203.00" r="2.9" fill="#fff" stroke="#1b2e72" stroke-width="0.9"/>
<path d="M106.31,203.00 A2.9,2.9 0 0 1 112.11,203.00 Z" fill="#1b2e72"/>
<circle cx="119.52" cy="221.80" r="2.9" fill="#fff" stroke="#1b2e72" stroke-width="0.9"/>
<path d="M116.62,221.80 A2.9,2.9 0 0 1 122.42,221.80 Z" fill="#1b2e72"/>
<circle cx="125.55" cy="237.60" r="2.9" fill="#fff" stroke="#1b2e72" stroke-width="0.9"/>
<path d="M122.65,237.60 A2.9,2.9 0 0 1 128.45,237.60 Z" fill="#1b2e72"/>
<circle cx="129.83" cy="249.80" r="2.9" fill="#fff" stroke="#1b2e72" stroke-width="0.9"/>
<path d="M126.93,249.80 A2.9,2.9 0 0 1 132.73,249.80 Z" fill="#1b2e72"/>
<circle cx="133.15" cy="258.70" r="2.9" fill="#fff" stroke="#1b2e72" stroke-width="0.9"/>
<path d="M130.25,258.70 A2.9,2.9 0 0 1 136.05,258.70 Z" fill="#1b2e72"/>
<circle cx="143.46" cy="283.60" r="2.9" fill="#fff" stroke="#1b2e72" stroke-width="0.9"/>
<path d="M140.56,283.60 A2.9,2.9 0 0 1 146.36,283.60 Z" fill="#1b2e72"/>
<circle cx="153.77" cy="300.20" r="2.9" fill="#fff" stroke="#1b2e72" stroke-width="0.9"/>
<path d="M150.87,300.20 A2.9,2.9 0 0 1 156.67,300.20 Z" fill="#1b2e72"/>
<circle cx="159.80" cy="306.30" r="2.9" fill="#fff" stroke="#1b2e72" stroke-width="0.9"/>
<path d="M156.90,306.30 A2.9,2.9 0 0 1 162.70,306.30 Z" fill="#1b2e72"/>
<circle cx="164.08" cy="309.30" r="2.9" fill="#fff" stroke="#1b2e72" stroke-width="0.9"/>
<path d="M161.18,309.30 A2.9,2.9 0 0 1 166.98,309.30 Z" fill="#1b2e72"/>
<circle cx="167.40" cy="311.30" r="2.9" fill="#fff" stroke="#1b2e72" stroke-width="0.9"/>
<path d="M164.50,311.30 A2.9,2.9 0 0 1 170.30,311.30 Z" fill="#1b2e72"/>
<circle cx="177.71" cy="315.60" r="2.9" fill="#fff" stroke="#1b2e72" stroke-width="0.9"/>
<path d="M174.81,315.60 A2.9,2.9 0 0 1 180.61,315.60 Z" fill="#1b2e72"/>
<circle cx="188.02" cy="317.90" r="2.9" fill="#fff" stroke="#1b2e72" stroke-width="0.9"/>
<path d="M185.12,317.90 A2.9,2.9 0 0 1 190.92,317.90 Z" fill="#1b2e72"/>
<circle cx="194.05" cy="318.20" r="2.9" fill="#fff" stroke="#1b2e72" stroke-width="0.9"/>
<path d="M191.15,318.20 A2.9,2.9 0 0 1 196.95,318.20 Z" fill="#1b2e72"/>
<circle cx="198.33" cy="318.40" r="2.9" fill="#fff" stroke="#1b2e72" stroke-width="0.9"/>
<path d="M195.43,318.40 A2.9,2.9 0 0 1 201.23,318.40 Z" fill="#1b2e72"/>
<circle cx="201.65" cy="318.50" r="2.9" fill="#fff" stroke="#1b2e72" stroke-width="0.9"/>
<path d="M198.75,318.50 A2.9,2.9 0 0 1 204.55,318.50 Z" fill="#1b2e72"/>
<text transform="translate(250.90,186.80) scale(1,1.08)" font-size="9.6" fill="#000" text-anchor="start" font-weight="bold"  style="" stroke="#000" stroke-width="0.15">e</text>
<rect x="288.05" y="265.90" width="8.80" height="66.30" fill="#29b096" />
<rect x="305.25" y="270.30" width="8.80" height="61.90" fill="#29b096" />
<rect x="322.45" y="251.00" width="8.80" height="81.20" fill="#29b096" />
<rect x="339.65" y="222.70" width="8.80" height="109.50" fill="#29b096" />
<rect x="356.85" y="233.20" width="8.80" height="99.00" fill="#29b096" />
<rect x="374.05" y="241.90" width="8.80" height="90.30" fill="#29b096" />
<rect x="391.25" y="304.00" width="8.80" height="28.20" fill="#29b096" />
<rect x="408.45" y="316.10" width="8.80" height="16.10" fill="#29b096" />
<rect x="425.65" y="319.80" width="8.80" height="12.40" fill="#29b096" />
<line x1="275.00" y1="192.90" x2="448.00" y2="192.90" stroke="#222" stroke-width="1" />
<line x1="275.00" y1="192.90" x2="275.00" y2="332.20" stroke="#29b096" stroke-width="1.2" />
<line x1="448.00" y1="192.90" x2="448.00" y2="332.20" stroke="#f06a5a" stroke-width="1.2" />
<line x1="275.00" y1="332.20" x2="448.00" y2="332.20" stroke="#222" stroke-width="1.1" />
<line x1="272.50" y1="324.70" x2="275.00" y2="324.70" stroke="#29b096" stroke-width="1" />
<text transform="translate(270.50,327.70) scale(1,1.08)" font-size="8.6" fill="#29b096" text-anchor="end" font-weight="bold"  style="" stroke="#29b096" stroke-width="0.15">0</text>
<line x1="273.60" y1="317.38" x2="275.00" y2="317.38" stroke="#29b096" stroke-width="0.8" />
<line x1="272.50" y1="310.05" x2="275.00" y2="310.05" stroke="#29b096" stroke-width="1" />
<text transform="translate(270.50,313.05) scale(1,1.08)" font-size="8.6" fill="#29b096" text-anchor="end" font-weight="bold"  style="" stroke="#29b096" stroke-width="0.15">5</text>
<line x1="273.60" y1="302.72" x2="275.00" y2="302.72" stroke="#29b096" stroke-width="0.8" />
<line x1="272.50" y1="295.40" x2="275.00" y2="295.40" stroke="#29b096" stroke-width="1" />
<text transform="translate(270.50,298.40) scale(1,1.08)" font-size="8.6" fill="#29b096" text-anchor="end" font-weight="bold"  style="" stroke="#29b096" stroke-width="0.15">10</text>
<line x1="273.60" y1="288.07" x2="275.00" y2="288.07" stroke="#29b096" stroke-width="0.8" />
<line x1="272.50" y1="280.75" x2="275.00" y2="280.75" stroke="#29b096" stroke-width="1" />
<text transform="translate(270.50,283.75) scale(1,1.08)" font-size="8.6" fill="#29b096" text-anchor="end" font-weight="bold"  style="" stroke="#29b096" stroke-width="0.15">15</text>
<line x1="273.60" y1="273.42" x2="275.00" y2="273.42" stroke="#29b096" stroke-width="0.8" />
<line x1="272.50" y1="266.10" x2="275.00" y2="266.10" stroke="#29b096" stroke-width="1" />
<text transform="translate(270.50,269.10) scale(1,1.08)" font-size="8.6" fill="#29b096" text-anchor="end" font-weight="bold"  style="" stroke="#29b096" stroke-width="0.15">20</text>
<line x1="273.60" y1="258.77" x2="275.00" y2="258.77" stroke="#29b096" stroke-width="0.8" />
<line x1="272.50" y1="251.45" x2="275.00" y2="251.45" stroke="#29b096" stroke-width="1" />
<text transform="translate(270.50,254.45) scale(1,1.08)" font-size="8.6" fill="#29b096" text-anchor="end" font-weight="bold"  style="" stroke="#29b096" stroke-width="0.15">25</text>
<line x1="273.60" y1="244.12" x2="275.00" y2="244.12" stroke="#29b096" stroke-width="0.8" />
<line x1="272.50" y1="236.80" x2="275.00" y2="236.80" stroke="#29b096" stroke-width="1" />
<text transform="translate(270.50,239.80) scale(1,1.08)" font-size="8.6" fill="#29b096" text-anchor="end" font-weight="bold"  style="" stroke="#29b096" stroke-width="0.15">30</text>
<line x1="273.60" y1="229.47" x2="275.00" y2="229.47" stroke="#29b096" stroke-width="0.8" />
<line x1="272.50" y1="222.15" x2="275.00" y2="222.15" stroke="#29b096" stroke-width="1" />
<text transform="translate(270.50,225.15) scale(1,1.08)" font-size="8.6" fill="#29b096" text-anchor="end" font-weight="bold"  style="" stroke="#29b096" stroke-width="0.15">35</text>
<line x1="273.60" y1="214.82" x2="275.00" y2="214.82" stroke="#29b096" stroke-width="0.8" />
<line x1="272.50" y1="207.50" x2="275.00" y2="207.50" stroke="#29b096" stroke-width="1" />
<text transform="translate(270.50,210.50) scale(1,1.08)" font-size="8.6" fill="#29b096" text-anchor="end" font-weight="bold"  style="" stroke="#29b096" stroke-width="0.15">40</text>
<line x1="273.60" y1="200.17" x2="275.00" y2="200.17" stroke="#29b096" stroke-width="0.8" />
<line x1="272.50" y1="192.85" x2="275.00" y2="192.85" stroke="#29b096" stroke-width="1" />
<text transform="translate(270.50,195.85) scale(1,1.08)" font-size="8.6" fill="#29b096" text-anchor="end" font-weight="bold"  style="" stroke="#29b096" stroke-width="0.15">45</text>
<line x1="448.00" y1="332.20" x2="450.50" y2="332.20" stroke="#f06a5a" stroke-width="1" />
<text transform="translate(452.50,335.20) scale(1,1.08)" font-size="8.6" fill="#f06a5a" text-anchor="start" font-weight="bold"  style="" stroke="#f06a5a" stroke-width="0.15">0.4</text>
<line x1="448.00" y1="325.27" x2="449.40" y2="325.27" stroke="#f06a5a" stroke-width="0.8" />
<line x1="448.00" y1="318.34" x2="450.50" y2="318.34" stroke="#f06a5a" stroke-width="1" />
<text transform="translate(452.50,321.34) scale(1,1.08)" font-size="8.6" fill="#f06a5a" text-anchor="start" font-weight="bold"  style="" stroke="#f06a5a" stroke-width="0.15">0.6</text>
<line x1="448.00" y1="311.41" x2="449.40" y2="311.41" stroke="#f06a5a" stroke-width="0.8" />
<line x1="448.00" y1="304.48" x2="450.50" y2="304.48" stroke="#f06a5a" stroke-width="1" />
<text transform="translate(452.50,307.48) scale(1,1.08)" font-size="8.6" fill="#f06a5a" text-anchor="start" font-weight="bold"  style="" stroke="#f06a5a" stroke-width="0.15">0.8</text>
<line x1="448.00" y1="297.55" x2="449.40" y2="297.55" stroke="#f06a5a" stroke-width="0.8" />
<line x1="448.00" y1="290.62" x2="450.50" y2="290.62" stroke="#f06a5a" stroke-width="1" />
<text transform="translate(452.50,293.62) scale(1,1.08)" font-size="8.6" fill="#f06a5a" text-anchor="start" font-weight="bold"  style="" stroke="#f06a5a" stroke-width="0.15">1.0</text>
<line x1="448.00" y1="283.69" x2="449.40" y2="283.69" stroke="#f06a5a" stroke-width="0.8" />
<line x1="448.00" y1="276.76" x2="450.50" y2="276.76" stroke="#f06a5a" stroke-width="1" />
<text transform="translate(452.50,279.76) scale(1,1.08)" font-size="8.6" fill="#f06a5a" text-anchor="start" font-weight="bold"  style="" stroke="#f06a5a" stroke-width="0.15">1.2</text>
<line x1="448.00" y1="269.83" x2="449.40" y2="269.83" stroke="#f06a5a" stroke-width="0.8" />
<line x1="448.00" y1="262.90" x2="450.50" y2="262.90" stroke="#f06a5a" stroke-width="1" />
<text transform="translate(452.50,265.90) scale(1,1.08)" font-size="8.6" fill="#f06a5a" text-anchor="start" font-weight="bold"  style="" stroke="#f06a5a" stroke-width="0.15">1.4</text>
<line x1="448.00" y1="255.97" x2="449.40" y2="255.97" stroke="#f06a5a" stroke-width="0.8" />
<line x1="448.00" y1="249.04" x2="450.50" y2="249.04" stroke="#f06a5a" stroke-width="1" />
<text transform="translate(452.50,252.04) scale(1,1.08)" font-size="8.6" fill="#f06a5a" text-anchor="start" font-weight="bold"  style="" stroke="#f06a5a" stroke-width="0.15">1.6</text>
<line x1="448.00" y1="242.11" x2="449.40" y2="242.11" stroke="#f06a5a" stroke-width="0.8" />
<line x1="448.00" y1="235.18" x2="450.50" y2="235.18" stroke="#f06a5a" stroke-width="1" />
<text transform="translate(452.50,238.18) scale(1,1.08)" font-size="8.6" fill="#f06a5a" text-anchor="start" font-weight="bold"  style="" stroke="#f06a5a" stroke-width="0.15">1.8</text>
<line x1="448.00" y1="228.25" x2="449.40" y2="228.25" stroke="#f06a5a" stroke-width="0.8" />
<line x1="448.00" y1="221.32" x2="450.50" y2="221.32" stroke="#f06a5a" stroke-width="1" />
<text transform="translate(452.50,224.32) scale(1,1.08)" font-size="8.6" fill="#f06a5a" text-anchor="start" font-weight="bold"  style="" stroke="#f06a5a" stroke-width="0.15">2.0</text>
<line x1="448.00" y1="214.39" x2="449.40" y2="214.39" stroke="#f06a5a" stroke-width="0.8" />
<line x1="448.00" y1="207.46" x2="450.50" y2="207.46" stroke="#f06a5a" stroke-width="1" />
<text transform="translate(452.50,210.46) scale(1,1.08)" font-size="8.6" fill="#f06a5a" text-anchor="start" font-weight="bold"  style="" stroke="#f06a5a" stroke-width="0.15">2.2</text>
<line x1="448.00" y1="200.53" x2="449.40" y2="200.53" stroke="#f06a5a" stroke-width="0.8" />
<line x1="448.00" y1="193.60" x2="450.50" y2="193.60" stroke="#f06a5a" stroke-width="1" />
<text transform="translate(452.50,196.60) scale(1,1.08)" font-size="8.6" fill="#f06a5a" text-anchor="start" font-weight="bold"  style="" stroke="#f06a5a" stroke-width="0.15">2.4</text>
<line x1="292.45" y1="332.20" x2="292.45" y2="334.60" stroke="#222" stroke-width="1" />
<line x1="283.85" y1="332.20" x2="283.85" y2="333.60" stroke="#222" stroke-width="1" />
<text transform="translate(300.45,342.3) rotate(-60) scale(1,1.08)" font-size="8.6" text-anchor="end" font-weight="bold" stroke="#000" stroke-width="0.15">LiCl</text>
<line x1="309.65" y1="332.20" x2="309.65" y2="334.60" stroke="#222" stroke-width="1" />
<line x1="301.05" y1="332.20" x2="301.05" y2="333.60" stroke="#222" stroke-width="1" />
<text transform="translate(317.65,342.3) rotate(-60) scale(1,1.08)" font-size="8.6" text-anchor="end" font-weight="bold" stroke="#000" stroke-width="0.15">NaCl</text>
<line x1="326.85" y1="332.20" x2="326.85" y2="334.60" stroke="#222" stroke-width="1" />
<line x1="318.25" y1="332.20" x2="318.25" y2="333.60" stroke="#222" stroke-width="1" />
<text transform="translate(334.85,342.3) rotate(-60) scale(1,1.08)" font-size="8.6" text-anchor="end" font-weight="bold" stroke="#000" stroke-width="0.15">KCl</text>
<line x1="344.05" y1="332.20" x2="344.05" y2="334.60" stroke="#222" stroke-width="1" />
<line x1="335.45" y1="332.20" x2="335.45" y2="333.60" stroke="#222" stroke-width="1" />
<text transform="translate(352.05,342.3) rotate(-60) scale(1,1.08)" font-size="8.6" text-anchor="end" font-weight="bold" stroke="#000" stroke-width="0.15">RbCl</text>
<line x1="361.25" y1="332.20" x2="361.25" y2="334.60" stroke="#222" stroke-width="1" />
<line x1="352.65" y1="332.20" x2="352.65" y2="333.60" stroke="#222" stroke-width="1" />
<text transform="translate(369.25,342.3) rotate(-60) scale(1,1.08)" font-size="8.6" text-anchor="end" font-weight="bold" stroke="#000" stroke-width="0.15">CsCl</text>
<line x1="378.45" y1="332.20" x2="378.45" y2="334.60" stroke="#222" stroke-width="1" />
<line x1="369.85" y1="332.20" x2="369.85" y2="333.60" stroke="#222" stroke-width="1" />
<text transform="translate(386.45,342.3) rotate(-60) scale(1,1.08)" font-size="8.6" text-anchor="end" font-weight="bold" stroke="#000" stroke-width="0.15">NH<tspan font-size="5.5" dy="2">4</tspan><tspan dy="-2">Cl</tspan></text>
<line x1="395.65" y1="332.20" x2="395.65" y2="334.60" stroke="#222" stroke-width="1" />
<line x1="387.05" y1="332.20" x2="387.05" y2="333.60" stroke="#222" stroke-width="1" />
<text transform="translate(403.65,342.3) rotate(-60) scale(1,1.08)" font-size="8.6" text-anchor="end" font-weight="bold" stroke="#000" stroke-width="0.15">CaCl<tspan font-size="5.5" dy="2">2</tspan></text>
<line x1="412.85" y1="332.20" x2="412.85" y2="334.60" stroke="#222" stroke-width="1" />
<line x1="404.25" y1="332.20" x2="404.25" y2="333.60" stroke="#222" stroke-width="1" />
<text transform="translate(420.85,342.3) rotate(-60) scale(1,1.08)" font-size="8.6" text-anchor="end" font-weight="bold" stroke="#000" stroke-width="0.15">MgCl<tspan font-size="5.5" dy="2">2</tspan></text>
<line x1="430.05" y1="332.20" x2="430.05" y2="334.60" stroke="#222" stroke-width="1" />
<line x1="421.45" y1="332.20" x2="421.45" y2="333.60" stroke="#222" stroke-width="1" />
<text transform="translate(438.05,342.3) rotate(-60) scale(1,1.08)" font-size="8.6" text-anchor="end" font-weight="bold" stroke="#000" stroke-width="0.15">AlCl<tspan font-size="5.5" dy="2">3</tspan></text>
<line x1="386.30" y1="195.80" x2="386.30" y2="325.00" stroke="#1b2e72" stroke-width="1.5" stroke-dasharray="4.6 3"/>
<text transform="translate(356.80,209.30) scale(1,1.08)" font-size="9.3" fill="#1b2e72" text-anchor="middle" font-weight="bold"  style="" stroke="#1b2e72" stroke-width="0.15">Monovalent</text>
<text transform="translate(419.10,209.30) scale(1,1.08)" font-size="9.3" fill="#1b2e72" text-anchor="middle" font-weight="bold"  style="" stroke="#1b2e72" stroke-width="0.15">Multivalent</text>
<polyline points="292.00,288.60 309.50,267.20 326.40,224.50 343.70,216.40 361.10,217.60 378.00,224.50 395.60,305.10 412.80,311.20 429.90,321.10" fill="none" stroke="#f06a5a" stroke-width="1.3" stroke-linejoin="round" />
<circle cx="292" cy="288.6" r="2.5" fill="#fff" stroke="#f06a5a" stroke-width="1.1"/>
<circle cx="309.5" cy="267.2" r="2.5" fill="#fff" stroke="#f06a5a" stroke-width="1.1"/>
<circle cx="326.4" cy="224.5" r="2.5" fill="#fff" stroke="#f06a5a" stroke-width="1.1"/>
<circle cx="343.7" cy="216.4" r="2.5" fill="#fff" stroke="#f06a5a" stroke-width="1.1"/>
<circle cx="361.1" cy="217.6" r="2.5" fill="#fff" stroke="#f06a5a" stroke-width="1.1"/>
<circle cx="378" cy="224.5" r="2.5" fill="#fff" stroke="#f06a5a" stroke-width="1.1"/>
<circle cx="395.6" cy="305.1" r="2.5" fill="#fff" stroke="#f06a5a" stroke-width="1.1"/>
<circle cx="412.8" cy="311.2" r="2.5" fill="#fff" stroke="#f06a5a" stroke-width="1.1"/>
<circle cx="429.9" cy="321.1" r="2.5" fill="#fff" stroke="#f06a5a" stroke-width="1.1"/>
<text transform="translate(252.7,262.6) rotate(-90) scale(1,1.08)" font-size="9" fill="#29b096" text-anchor="middle" font-weight="bold" stroke="#29b096" stroke-width="0.15">Power Density (W m<tspan font-size="6" dy="-3.3">-2</tspan><tspan dy="3.3">)</tspan></text>
<text transform="translate(469.2,262.8) rotate(90) scale(1,1.08)" font-size="9.6" fill="#f06a5a" text-anchor="middle" font-weight="normal" stroke="#f06a5a" stroke-width="0.15">D<tspan font-size="6.6" dy="2.2">cation</tspan><tspan dy="-2.2"> (10</tspan><tspan font-size="6.6" dy="-3.5">-5</tspan><tspan dy="3.5"> cm</tspan><tspan font-size="6.6" dy="-3.5">2</tspan><tspan dy="3.5"> s</tspan><tspan font-size="6.6" dy="-3.5">-1</tspan><tspan dy="3.5">)</tspan></text>
<text transform="translate(490.60,186.40) scale(1,1.08)" font-size="9.6" fill="#000" text-anchor="start" font-weight="bold"  style="" stroke="#000" stroke-width="0.15">f</text>
<rect x="518.90" y="279.10" width="8.40" height="52.40" fill="#10266b" />
<rect x="540.40" y="282.90" width="8.40" height="48.60" fill="#10266b" />
<rect x="561.90" y="265.70" width="8.40" height="65.80" fill="#10266b" />
<rect x="583.40" y="242.60" width="8.40" height="88.90" fill="#10266b" />
<rect x="604.90" y="248.80" width="8.40" height="82.70" fill="#10266b" />
<rect x="626.40" y="219.90" width="8.40" height="111.60" fill="#10266b" />
<rect x="647.90" y="206.30" width="8.40" height="125.20" fill="#10266b" />
<rect x="669.40" y="299.20" width="8.40" height="32.30" fill="#10266b" />
<line x1="512.00" y1="193.70" x2="684.00" y2="193.70" stroke="#777" stroke-width="1" />
<line x1="684.00" y1="193.70" x2="684.00" y2="331.50" stroke="#777" stroke-width="1" />
<line x1="512.00" y1="193.70" x2="512.00" y2="331.50" stroke="#777" stroke-width="1.1" />
<line x1="512.00" y1="331.50" x2="684.00" y2="331.50" stroke="#555" stroke-width="1.1" />
<line x1="509.50" y1="331.50" x2="512.00" y2="331.50" stroke="#555" stroke-width="1" />
<text transform="translate(504.00,334.70) scale(1,1.08)" font-size="9" fill="#000" text-anchor="end" font-weight="bold"  style="" stroke="#000" stroke-width="0.15">0</text>
<line x1="509.50" y1="316.19" x2="512.00" y2="316.19" stroke="#555" stroke-width="1" />
<text transform="translate(504.00,319.39) scale(1,1.08)" font-size="9" fill="#000" text-anchor="end" font-weight="bold"  style="" stroke="#000" stroke-width="0.15">2</text>
<line x1="509.50" y1="300.88" x2="512.00" y2="300.88" stroke="#555" stroke-width="1" />
<text transform="translate(504.00,304.08) scale(1,1.08)" font-size="9" fill="#000" text-anchor="end" font-weight="bold"  style="" stroke="#000" stroke-width="0.15">4</text>
<line x1="509.50" y1="285.57" x2="512.00" y2="285.57" stroke="#555" stroke-width="1" />
<text transform="translate(504.00,288.77) scale(1,1.08)" font-size="9" fill="#000" text-anchor="end" font-weight="bold"  style="" stroke="#000" stroke-width="0.15">6</text>
<line x1="509.50" y1="270.26" x2="512.00" y2="270.26" stroke="#555" stroke-width="1" />
<text transform="translate(504.00,273.46) scale(1,1.08)" font-size="9" fill="#000" text-anchor="end" font-weight="bold"  style="" stroke="#000" stroke-width="0.15">8</text>
<line x1="509.50" y1="254.94" x2="512.00" y2="254.94" stroke="#555" stroke-width="1" />
<text transform="translate(504.00,258.14) scale(1,1.08)" font-size="9" fill="#000" text-anchor="end" font-weight="bold"  style="" stroke="#000" stroke-width="0.15">10</text>
<line x1="509.50" y1="239.63" x2="512.00" y2="239.63" stroke="#555" stroke-width="1" />
<text transform="translate(504.00,242.83) scale(1,1.08)" font-size="9" fill="#000" text-anchor="end" font-weight="bold"  style="" stroke="#000" stroke-width="0.15">12</text>
<line x1="509.50" y1="224.32" x2="512.00" y2="224.32" stroke="#555" stroke-width="1" />
<text transform="translate(504.00,227.52) scale(1,1.08)" font-size="9" fill="#000" text-anchor="end" font-weight="bold"  style="" stroke="#000" stroke-width="0.15">14</text>
<line x1="509.50" y1="209.01" x2="512.00" y2="209.01" stroke="#555" stroke-width="1" />
<text transform="translate(504.00,212.21) scale(1,1.08)" font-size="9" fill="#000" text-anchor="end" font-weight="bold"  style="" stroke="#000" stroke-width="0.15">16</text>
<line x1="509.50" y1="193.70" x2="512.00" y2="193.70" stroke="#555" stroke-width="1" />
<text transform="translate(504.00,196.90) scale(1,1.08)" font-size="9" fill="#000" text-anchor="end" font-weight="bold"  style="" stroke="#000" stroke-width="0.15">18</text>
<line x1="512.30" y1="331.50" x2="512.30" y2="333.90" stroke="#333" stroke-width="1" />
<line x1="533.80" y1="331.50" x2="533.80" y2="333.90" stroke="#333" stroke-width="1" />
<line x1="555.30" y1="331.50" x2="555.30" y2="333.90" stroke="#333" stroke-width="1" />
<line x1="576.80" y1="331.50" x2="576.80" y2="333.90" stroke="#333" stroke-width="1" />
<line x1="598.30" y1="331.50" x2="598.30" y2="333.90" stroke="#333" stroke-width="1" />
<line x1="619.80" y1="331.50" x2="619.80" y2="333.90" stroke="#333" stroke-width="1" />
<line x1="641.30" y1="331.50" x2="641.30" y2="333.90" stroke="#333" stroke-width="1" />
<line x1="662.80" y1="331.50" x2="662.80" y2="333.90" stroke="#333" stroke-width="1" />
<text transform="translate(524.90,342.2) rotate(-45) scale(1,1.08)" font-size="8.4" text-anchor="end" font-weight="bold" stroke="#000" stroke-width="0.15">Li/Mg</text>
<text transform="translate(546.40,342.2) rotate(-45) scale(1,1.08)" font-size="8.4" text-anchor="end" font-weight="bold" stroke="#000" stroke-width="0.15">Na/Mg</text>
<text transform="translate(567.90,342.2) rotate(-45) scale(1,1.08)" font-size="8.4" text-anchor="end" font-weight="bold" stroke="#000" stroke-width="0.15">K/Mg</text>
<text transform="translate(589.40,342.2) rotate(-45) scale(1,1.08)" font-size="8.4" text-anchor="end" font-weight="bold" stroke="#000" stroke-width="0.15">Li/Al</text>
<text transform="translate(610.90,342.2) rotate(-45) scale(1,1.08)" font-size="8.4" text-anchor="end" font-weight="bold" stroke="#000" stroke-width="0.15">Na/Al</text>
<text transform="translate(632.40,342.2) rotate(-45) scale(1,1.08)" font-size="8.4" text-anchor="end" font-weight="bold" stroke="#000" stroke-width="0.15">K/Al</text>
<text transform="translate(653.90,342.2) rotate(-45) scale(1,1.08)" font-size="8.4" text-anchor="end" font-weight="bold" stroke="#000" stroke-width="0.15">NH<tspan font-size="5.2" dy="1.8">4</tspan><tspan dy="-1.8">/Al</tspan></text>
<text transform="translate(675.40,342.2) rotate(-45) scale(1,1.08)" font-size="8.4" text-anchor="end" font-weight="bold" stroke="#000" stroke-width="0.15">Ca/Al</text>
<text transform="translate(492,266.3) rotate(-90) scale(1,1.08)" font-size="8.4" text-anchor="middle" font-weight="bold" stroke="#000" stroke-width="0.15">Selectivity</text>
</g>
</svg>
</body></html>
